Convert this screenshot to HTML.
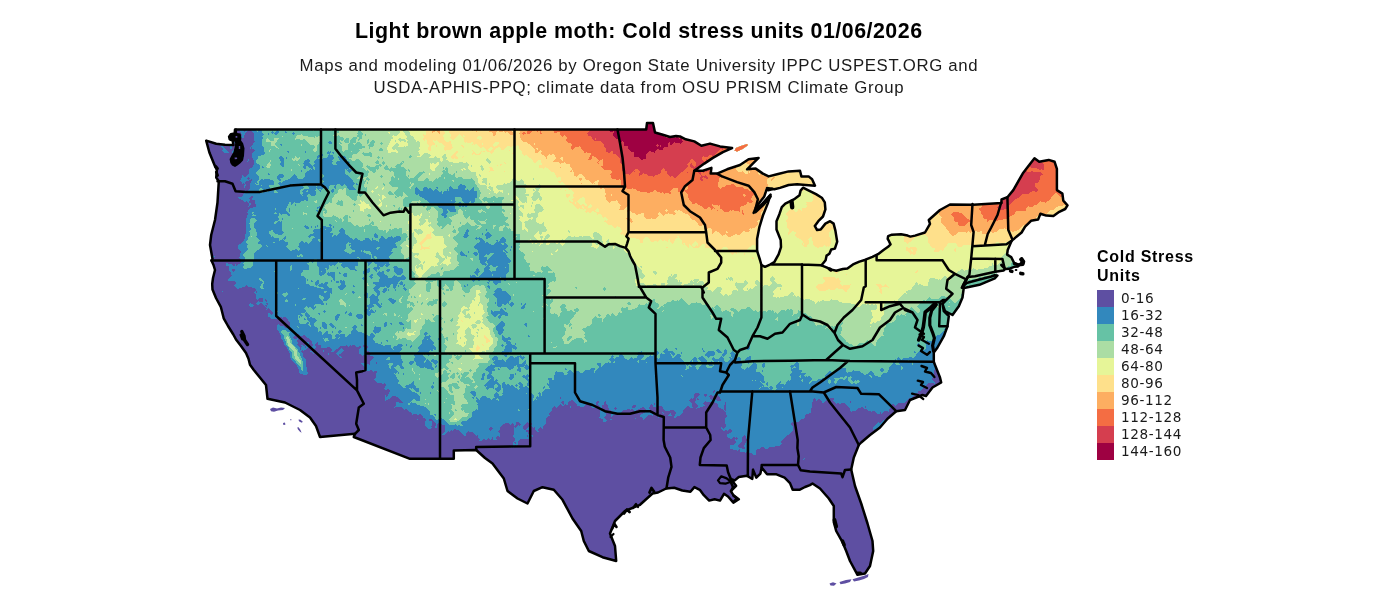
<!DOCTYPE html>
<html><head><meta charset="utf-8"><title>Light brown apple moth: Cold stress units</title>
<style>
html,body{margin:0;padding:0;background:#fff;}
body{width:1400px;height:594px;position:relative;overflow:hidden;font-family:"Liberation Sans",sans-serif;color:#000;}
#title{position:absolute;left:0;top:17.7px;width:1277.6px;text-align:center;font-size:21.4px;font-weight:bold;line-height:26px;letter-spacing:0.49px;white-space:nowrap;}
#sub{position:absolute;left:0;top:55px;width:1277.8px;text-align:center;font-size:16.8px;line-height:21.75px;letter-spacing:0.655px;color:#1a1a1a;white-space:nowrap;}
#map{position:absolute;left:0;top:0;}
#legend{position:absolute;left:1097px;top:247px;}
#legend .lt{font-weight:bold;font-size:16px;line-height:19.2px;letter-spacing:0.73px;white-space:nowrap;}
#legend .row{position:absolute;left:0;height:17.07px;width:120px;}
#legend .sw{position:absolute;left:0;top:0;width:17px;height:17px;}
#legend .lb{position:absolute;left:24px;top:-0.4px;font-family:"DejaVu Sans","Liberation Sans",sans-serif;font-size:13.6px;line-height:16.2px;letter-spacing:0.62px;white-space:nowrap;color:#1a1a1a;}
</style></head><body>
<div id="title">Light brown apple moth: Cold stress units 01/06/2026</div>
<div id="sub">Maps and modeling 01/06/2026 by Oregon State University IPPC USPEST.ORG and<br>USDA-APHIS-PPQ; climate data from OSU PRISM Climate Group</div>

<svg id="map" width="1400" height="594" viewBox="0 0 1400 594">
<defs><clipPath id="us"><path d="M235.0 129.5 L646.2 129.5 L647.0 123.0 L653.0 123.0 L655.0 132.5 L662.0 134.5 L670.0 137.0 L676.0 136.0 L680.0 136.4 L685.7 139.3 L694.3 141.4 L701.4 145.7 L710.0 143.6 L720.0 146.4 L732.1 148.1 L722.9 152.1 L712.9 157.9 L704.3 163.6 L694.3 170.7 L702.9 170.7 L711.4 167.9 L710.7 173.6 L717.1 173.6 L727.1 169.3 L740.0 165.0 L748.6 159.3 L758.6 157.9 L754.3 162.1 L747.1 169.3 L755.7 168.6 L762.9 173.6 L768.6 176.4 L777.1 174.3 L788.6 171.4 L800.0 170.7 L801.4 176.4 L808.6 176.4 L812.1 179.3 L815.0 185.7 L805.7 185.0 L797.1 184.3 L788.6 185.0 L780.0 187.9 L774.3 189.3 L767.1 187.9 L764.3 196.4 L760.0 202.1 L755.7 207.9 L753.6 212.9 L757.0 209.5 L762.5 203.5 L770.6 194.7 L767.7 203.6 L763.0 215.3 L759.4 227.1 L757.1 238.9 L757.1 250.9 L760.0 260.0 L761.4 265.0 L765.0 266.8 L770.0 264.6 L774.3 262.1 L778.6 254.3 L781.0 247.1 L780.7 240.0 L776.5 229.5 L776.5 221.2 L779.4 214.2 L781.8 207.1 L785.3 203.6 L788.9 201.8 L794.8 198.8 L799.5 195.3 L800.6 190.6 L803.0 187.7 L808.9 190.6 L816.0 194.1 L821.8 197.7 L824.8 202.4 L825.4 209.4 L823.0 216.5 L818.3 221.2 L814.8 225.9 L817.1 230.1 L820.7 229.5 L825.4 223.6 L830.1 221.2 L833.6 223.6 L835.4 230.6 L837.2 241.7 L834.9 248.6 L831.2 249.5 L829.4 253.7 L826.6 255.6 L825.6 260.2 L821.5 265.3 L827.0 267.6 L830.3 269.4 L836.3 270.8 L842.8 269.0 L847.4 268.5 L853.0 264.4 L859.4 261.6 L865.5 259.7 L872.4 256.9 L878.0 254.2 L883.5 250.0 L888.1 246.8 L890.5 244.4 L889.0 241.2 L887.7 238.9 L888.1 236.1 L891.9 234.7 L901.1 234.3 L907.6 235.6 L910.4 236.6 L915.0 235.6 L925.0 232.5 L930.0 223.8 L928.8 220.0 L940.0 210.0 L950.0 204.5 L973.2 204.7 L1001.5 203.0 L1001.5 199.5 L1007.4 197.2 L1013.3 190.1 L1022.7 173.6 L1029.8 164.2 L1034.5 158.3 L1039.2 161.8 L1048.7 159.9 L1054.6 161.8 L1056.9 168.9 L1056.9 190.1 L1062.4 193.6 L1063.3 200.7 L1067.5 205.4 L1065.2 209.0 L1059.3 211.8 L1053.4 216.0 L1046.3 215.6 L1040.4 213.7 L1038.1 219.6 L1031.0 220.8 L1025.1 226.7 L1021.6 232.5 L1014.5 238.4 L1012.4 240.0 L1011.2 241.8 L1007.7 250.0 L1007.1 254.7 L1011.2 257.1 L1014.2 263.0 L1018.3 264.6 L1023.0 264.0 L1023.6 261.8 L1021.5 258.6 L1020.3 259.3 L1022.0 262.0 L1021.0 263.2 L1018.0 266.5 L1014.2 266.8 L1009.0 268.8 L1005.4 268.9 L1003.5 270.5 L995.3 271.8 L985.0 274.0 L975.0 276.3 L967.7 277.1 L963.0 285.4 L963.8 287.5 L962.5 297.5 L958.8 306.2 L952.5 315.0 L945.0 311.2 L942.5 303.8 L943.8 311.2 L948.8 316.2 L947.5 326.2 L943.8 336.2 L937.5 347.5 L933.8 352.5 L933.8 361.8 L935.0 365.0 L940.0 377.5 L941.2 382.5 L932.5 387.5 L926.0 396.0 L922.5 395.0 L910.0 400.0 L905.0 410.0 L896.2 411.2 L887.5 418.8 L880.0 427.5 L870.0 435.0 L861.2 442.5 L858.8 445.0 L853.8 457.5 L851.2 469.5 L855.0 486.0 L861.2 503.5 L867.5 523.5 L872.5 541.0 L873.2 551.0 L870.0 566.0 L865.0 573.5 L857.5 574.8 L850.0 561.0 L846.2 551.0 L842.5 542.2 L836.2 531.0 L833.8 522.2 L833.8 506.0 L828.8 498.5 L820.0 488.5 L812.5 483.5 L809.9 485.1 L805.0 487.0 L799.4 489.8 L792.7 489.8 L790.0 483.1 L784.6 477.7 L776.5 474.3 L767.1 474.3 L761.7 467.5 L760.4 473.6 L756.3 477.7 L753.0 469.6 L752.3 479.0 L746.9 475.7 L738.8 477.0 L734.8 480.4 L730.8 479.0 L736.1 485.8 L730.8 491.1 L733.4 495.2 L738.8 499.2 L733.4 502.6 L728.0 496.5 L724.0 493.8 L720.0 500.6 L714.6 499.2 L709.2 500.6 L703.8 495.2 L699.8 489.8 L694.4 487.1 L690.4 491.8 L682.3 490.5 L674.2 487.8 L666.2 488.5 L658.0 492.5 L652.5 493.5 L640.0 504.8 L625.0 511.0 L615.0 521.0 L610.0 533.5 L615.0 546.0 L616.2 561.0 L602.5 557.2 L588.8 551.0 L583.8 541.0 L581.2 531.0 L572.5 518.5 L562.5 499.8 L553.8 489.8 L542.5 487.2 L533.8 491.0 L527.5 503.5 L517.5 498.5 L507.5 491.0 L503.8 478.5 L492.5 463.5 L485.0 458.0 L476.2 450.0 L453.8 450.5 L453.8 458.8 L410.0 458.8 L353.8 437.0 L355.0 433.8 L320.0 437.0 L316.0 426.0 L310.0 417.5 L300.0 410.0 L285.0 402.5 L267.5 398.8 L266.0 385.0 L253.8 370.0 L250.0 364.8 L248.5 358.8 L246.0 353.0 L241.0 346.0 L236.0 339.5 L233.3 334.5 L228.0 326.0 L223.7 318.3 L220.8 306.8 L216.0 298.0 L212.5 289.6 L212.2 284.0 L213.0 278.0 L215.0 270.0 L213.5 265.0 L211.5 260.4 L212.5 258.8 L210.0 245.0 L211.2 235.0 L215.0 220.0 L217.5 202.5 L218.8 181.2 L216.2 177.5 L216.9 170.0 L215.0 166.2 L209.4 152.5 L206.2 140.6 L216.2 143.8 L225.0 144.7 L233.5 145.0 L232.6 140.5 L229.7 139.3 L229.1 136.8 L230.9 134.2 L234.7 133.4Z M961.8 287.7 L966.5 283.0 L979.4 279.5 L991.2 276.5 L994.8 275.3 L997.5 275.5 L994.8 278.3 L979.4 284.8 L965.3 287.7Z M734.5 150.5 L736.0 148.0 L741.0 146.0 L747.3 144.0 L747.5 145.5 L742.5 149.0 L737.0 151.5ZM967.7 277.1 L985.0 274.0 L995.3 271.8 L997.5 275.5 L994.8 275.3 L979.4 279.5 L966.5 283.0ZM829.5 583.5 L833.0 582.3 L836.5 583.6 L834.0 585.8 L830.5 585.6ZM839.5 582.0 L846.0 580.0 L851.5 579.2 L850.0 582.0 L845.0 583.6 L840.5 584.2ZM852.5 579.2 L859.0 577.3 L864.0 575.8 L868.5 574.0 L868.0 577.0 L864.0 579.0 L859.0 580.6 L854.0 581.6ZM270.0 409.0 L273.0 407.6 L277.0 408.4 L281.0 407.4 L285.0 408.0 L283.0 410.0 L278.0 410.6 L274.0 411.8 L271.0 411.2ZM283.0 423.0 L285.0 422.6 L285.4 424.8 L283.4 425.0ZM298.3 419.8 L300.0 419.6 L302.7 421.5 L302.0 422.8 L299.5 421.8ZM297.2 427.4 L298.6 427.2 L300.5 430.0 L301.6 432.7 L300.0 431.8 L298.0 429.5ZM290.2 419.2 L291.4 419.2 L291.4 420.2 L290.2 420.2Z"/></clipPath></defs>
<g clip-path="url(#us)" shape-rendering="crispEdges">
<rect x="190" y="110" width="900" height="484" fill="#5E4FA2"/>
<path fill="#3288BD" fill-rule="evenodd" d="M1076 590 1074 590 1073 588 1072 590 1071 589 1065 589 1063 591 1062 591 1062 592 1070 592 1071 591 1072 592 1075 592ZM1055 584 1053 585 1055 585ZM1043 573 1044 576 1046 576 1048 579 1049 577 1051 577 1052 578 1054 575 1054 574 1052 574 1051 576 1049 575 1046 572 1047 570 1046 570 1046 571ZM1035 554 1033 556 1032 556 1032 557 1034 557 1035 556ZM1053 552 1052 554 1053 554 1054 556 1055 556 1056 554 1054 555 1053 554 1055 552ZM1059 551 1058 552 1059 552ZM1047 549 1047 550 1045 552 1048 554 1047 552 1048 551 1048 549ZM1039 541 1040 548 1042 548 1042 547 1044 546 1043 546 1041 544 1043 542 1040 542ZM1017 538 1017 539 1019 540 1019 539ZM1030 536 1029 536 1030 539 1027 542 1025 542 1023 544 1023 545 1027 549 1027 550 1029 550 1029 545 1031 544 1029 540 1030 539 1032 540 1035 540 1034 539 1032 539ZM1020 537 1024 540 1026 539 1026 538 1024 536 1021 536ZM1029 533 1032 532 1029 532ZM1010 525 1009 526 1010 526ZM1023 521 1023 522 1024 522 1024 521ZM1036 523 1034 520 1034 522 1032 524 1031 523 1028 523 1027 522 1022 527 1020 526 1018 526 1016 528 1015 526 1014 527 1014 529 1015 530 1014 531 1012 531 1015 534 1017 530 1020 528 1023 528 1025 529 1029 526 1030 527 1034 527 1035 526 1036 527ZM1019 519 1018 521 1019 521 1020 523 1021 523 1021 522 1019 521ZM1031 517 1032 518 1034 518 1034 517 1033 518ZM1012 510 1012 512 1014 513 1013 514 1014 516 1016 512 1015 512 1014 510ZM1070 505 1067 507 1067 511 1068 510 1070 510 1071 511 1070 512 1071 514 1072 513 1074 513 1075 511 1074 511 1073 509 1070 509 1069 508 1069 506ZM1034 491 1031 494 1029 495 1027 494 1026 495 1027 496 1029 496 1030 498 1032 494 1034 495ZM1001 492 1001 493 1004 495 1005 494 1007 494 1008 495 1008 496 1006 498 1004 498 1003 499 999 497 996 501 1001 501 1002 502 1000 504 1001 505 1001 508 1004 510 1003 513 1007 513 1010 511 1010 509 1009 508 1007 508 1004 504 1004 503 1005 502 1008 502 1009 503 1008 505 1011 506 1014 502 1015 503 1014 506 1016 505 1017 503 1021 506 1022 505 1024 505 1025 506 1025 508 1024 509 1025 511 1027 509 1029 508 1031 508 1032 509 1031 511 1035 513 1035 514 1038 517 1037 518 1038 519 1039 519 1039 515 1041 514 1042 515 1041 516 1041 521 1042 521 1044 519 1042 519 1041 518 1041 517 1043 515 1045 515 1049 517 1047 518 1046 520 1046 523 1045 524 1046 526 1049 526 1050 527 1048 529 1046 528 1046 529 1043 532 1041 531 1041 529 1039 530 1036 530 1037 531 1037 533 1040 537 1041 537 1041 535 1042 534 1044 535 1046 533 1047 534 1050 533 1051 534 1050 536 1051 535 1056 535 1059 533 1062 536 1062 538 1061 539 1058 539 1057 540 1058 541 1058 543 1056 545 1055 545 1053 543 1053 542 1053 544 1052 545 1054 546 1052 548 1050 548 1050 549 1052 550 1054 550 1056 548 1057 549 1060 549 1061 548 1063 550 1063 551 1065 552 1063 553 1063 561 1061 563 1059 563 1058 564 1055 564 1054 565 1054 567 1052 571 1054 571 1057 574 1056 576 1056 578 1057 579 1056 580 1058 582 1058 583 1060 583 1062 580 1067 580 1068 581 1067 582 1067 584 1065 586 1063 585 1064 586 1063 587 1064 586 1067 587 1069 585 1072 586 1072 584 1071 582 1072 581 1073 574 1074 573 1076 574 1076 569 1070 569 1069 568 1070 567 1070 565 1068 563 1072 561 1073 559 1071 558 1070 559 1070 561 1068 562 1066 559 1066 555 1067 554 1069 555 1069 554 1073 550 1073 545 1071 544 1070 542 1072 539 1076 539 1076 529 1075 528 1075 526 1076 525 1076 520 1073 520 1073 522 1071 523 1070 521 1067 521 1065 519 1065 516 1064 516 1062 518 1061 517 1059 519 1057 518 1056 520 1054 521 1052 519 1052 517 1053 516 1052 515 1051 516 1050 515 1051 513 1050 514 1048 513 1048 512 1050 511 1050 510 1049 510 1047 508 1046 509 1044 509 1043 508 1045 507 1043 505 1043 501 1037 501 1036 500 1034 500 1033 501 1032 500 1032 502 1031 503 1029 503 1027 499 1026 499 1024 497 1023 498 1019 495 1017 495 1019 497 1017 499 1012 496 1012 493 1011 493 1011 495 1010 496 1008 494 1008 493 1006 493 1004 491ZM1060 577 1061 578 1058 582 1057 580 1058 578ZM1067 565 1069 564 1070 566 1068 567ZM1066 549 1068 548 1069 550 1067 551ZM1061 547 1062 546 1063 547 1062 548ZM1066 541 1068 541 1069 542 1069 545 1071 546 1069 549 1065 546 1065 544 1064 543ZM1038 531 1039 530 1040 531 1039 532ZM1059 531 1061 529 1063 530 1063 532 1062 533 1060 533ZM1069 525 1073 527 1072 529 1072 533 1071 534 1069 533 1067 533 1066 532 1068 528 1068 526ZM1058 527 1058 525 1060 524 1061 526 1059 528ZM1061 523 1063 521 1065 522 1064 524 1062 524ZM1048 518 1049 517 1050 518 1049 519ZM1037 513 1038 512 1039 513 1038 514ZM1044 511 1045 510 1047 511 1046 512ZM1039 503 1040 502 1041 503 1040 504ZM1017 499 1018 498 1019 499 1018 500ZM1049 490 1051 490 1052 491 1053 489 1049 489ZM1038 489 1037 490 1037 492 1038 493 1040 493ZM1015 487 1013 485 1013 487 1012 488 1009 486 1010 488 1012 488 1013 489 1014 489ZM741 484 739 486 739 487 741 487ZM1041 480 1042 481 1042 480ZM974 476 974 477 976 479 976 481 981 485 983 485 984 486 986 486 988 484 990 485 990 486 988 488 987 488 987 489 988 489 989 491 990 490 991 491 991 493 990 494 988 494 988 495 990 496 991 495 994 495 993 494 994 493 996 493 997 494 998 493 996 491 996 489 994 488 994 486 992 482 992 478 990 477 987 481 984 482 983 481 985 479 985 478 983 478 982 477 977 477 975 475ZM980 482 982 480 984 482 984 483 983 484 981 484ZM1039 474 1038 475 1039 475 1040 477 1042 478 1042 476ZM1007 471 1004 471 1003 473 1003 475 1002 476 1003 477 1002 478 1002 482 1001 483 999 483 999 484 1004 485 1003 484 1004 483 1003 480 1007 478 1007 475 1006 475 1005 477 1004 476 1004 474 1005 473 1007 473ZM1001 484 1002 483 1003 484 1002 485ZM1039 470 1041 471 1041 470ZM1033 470 1033 471 1034 471 1034 470ZM1073 463 1073 464 1074 464 1074 463ZM1039 460 1039 463 1040 463 1041 461 1042 462 1041 460ZM1022 459 1025 463 1026 462 1024 461 1023 459ZM805 458 804 458 803 460ZM1011 453 1010 453 1008 455 1006 455 1006 457 1005 458 1003 458 1001 459 1001 461 1002 462 1003 461 1002 460 1003 459 1007 459 1008 460 1008 461 1006 462 1006 464 1005 465 1006 467 1005 468 1009 466 1008 461 1011 459 1009 458 1009 457 1011 455ZM1075 452 1074 452 1074 453 1071 456 1069 457 1066 457 1066 458 1064 459 1064 462 1062 465 1062 469 1064 470 1064 475 1063 476 1065 477 1065 479 1062 482 1059 482 1058 481 1056 482 1056 484 1058 484 1063 489 1062 491 1063 492 1063 494 1064 496 1063 497 1061 497 1061 498 1063 499 1062 501 1063 502 1063 504 1067 501 1069 502 1069 501 1071 499 1073 500 1074 502 1076 502 1076 490 1075 490 1073 492 1071 490 1071 489 1069 488 1068 489 1067 488 1068 486 1070 485 1071 486 1070 485 1072 483 1074 484 1074 487 1076 487 1076 484 1075 483 1076 481 1076 473 1075 472 1076 470 1076 464 1076 467 1075 468 1073 468 1072 467 1070 468 1069 466 1071 465 1071 464 1070 464 1068 462 1068 459 1071 456 1073 456 1074 457 1076 456 1075 454ZM1071 496 1072 494 1074 495 1072 497ZM1068 492 1070 491 1072 493 1071 494 1069 494ZM1064 490 1065 489 1066 490 1065 491ZM1062 487 1064 486 1065 488 1063 489ZM1000 452 998 454 998 456 1000 454 1002 455ZM962 452 961 451 960 453 962 453ZM1046 449 1046 451 1045 452 1045 454 1047 457 1046 459 1051 455 1051 454 1047 451 1048 450ZM986 449 986 450 984 452 983 452 986 452ZM1019 447 1019 449 1018 450 1015 450 1014 449 1014 450 1015 450 1017 452 1017 453 1014 457 1015 459 1015 464 1017 463 1019 466 1020 465 1023 467 1020 470 1019 470 1023 470 1024 471 1023 472 1023 474 1021 475 1019 477 1019 478 1026 480 1027 479 1026 478 1027 476 1029 477 1031 477 1031 473 1028 469 1029 468 1031 468 1033 467 1031 467 1030 466 1031 464 1034 461 1034 460 1036 459 1036 458 1039 455 1036 454 1033 457 1034 458 1033 460 1030 459 1031 462 1029 465 1029 467 1027 468 1017 463 1017 462 1019 461 1019 456 1021 453 1023 453 1024 451 1022 451 1020 452 1019 451 1021 449 1021 447ZM1026 475 1027 474 1028 475 1027 476ZM1028 474 1029 473 1030 474 1029 475ZM1029 473 1030 472 1031 473 1030 474ZM1024 470 1026 469 1027 471 1025 472ZM892 447 892 448 893 448 893 447ZM971 446 970 448 972 449 972 447ZM1052 445 1053 447 1052 450 1053 452 1055 452 1055 446 1054 445ZM995 445 995 446 997 447 996 449 999 448 999 447ZM884 445 883 446 884 447 885 446ZM1049 438 1047 439 1049 439ZM531 435 532 437 534 436ZM1053 435 1052 434 1051 436 1053 436ZM948 428 949 429 948 430 951 430 952 429 954 430 956 428 958 429 960 432 961 431 961 430 959 430 958 429 958 427 957 426 954 426 953 428ZM984 425 985 427 985 429 987 429 988 428 988 426 987 425ZM638 421 637 422 638 422ZM988 420 989 423 992 426 991 428 991 430 992 432 994 432 995 433 995 435 997 436 994 438 996 439 998 437 999 437 1001 435 999 436 998 434 1000 433 1000 432 1002 430 1003 430 1006 433 1006 435 1007 437 1006 438 1004 438 1002 437 1003 440 1002 441 1000 441 999 440 1000 439 998 441 1001 441 1002 443 1009 441 1007 439 1008 438 1010 438 1011 436 1011 434 1012 433 1014 433 1014 432 1013 431 1012 432 1010 431 1008 432 1006 432 1005 431 1006 430 1006 427 1004 423 1005 422 1002 422 1000 421 999 423 995 423 994 422 992 422 990 423ZM996 431 998 429 999 430 998 432ZM1000 424 1002 423 1003 424 1003 426 1001 427 1000 426ZM884 420 880 423 878 422 875 425 874 427 872 427 873 428 873 430 874 429 876 431 874 433 874 435 875 436 877 436 878 435 881 438 881 439 879 441 881 441 882 443 883 443 884 442 884 440 886 439 887 440 889 440 891 443 895 443 896 444 895 445 896 446 895 448 895 451 896 451 897 453 896 455 892 458 892 459 894 460 896 459 899 455 900 456 902 455 899 452 897 451 897 447 896 446 897 444 897 442 899 440 898 439 902 437 902 436 901 436 900 434 898 433 896 433 894 431 896 430 897 428 899 428 900 427 898 423 899 421 898 421 899 422 897 424 894 425 893 424 890 424 889 423 890 421 887 421 886 420ZM896 440 897 439 898 441 897 442ZM888 439 889 437 891 437 892 438 890 440ZM888 422 890 424 888 426 889 427 887 429 885 426 886 425 886 423ZM885 422 886 421 887 422 886 423ZM944 419 944 420 945 420 945 419ZM938 419 940 421 939 419ZM417 419 417 420 418 420ZM658 417 658 418 659 418 659 417ZM635 417 635 419 634 420 636 419ZM953 416 953 417 954 417 954 416ZM1004 415 1004 416 1005 416ZM990 415 992 416 992 415ZM672 416 671 415 671 413 670 413 667 416ZM662 412 662 413 664 414 664 413ZM570 406 570 408 571 408 571 406ZM973 402 971 403 971 406 972 407 974 406 974 403ZM921 402 921 404 923 406 923 407 924 406 924 404 922 402ZM980 400 978 401 980 401ZM980 397 980 398 981 398 983 400 987 402 986 399 988 396 990 396 986 394 983 397ZM1027 385 1026 387 1027 388 1029 387 1028 387ZM1009 383 1009 384 1010 384ZM997 364 998 364 999 366 1000 365 999 364ZM1009 362 1009 364 1014 366 1018 371 1020 370 1023 373 1022 374 1019 374 1017 376 1016 376 1016 377 1018 377 1019 379 1020 379 1020 378 1022 377 1022 376 1024 374 1025 374 1025 372 1024 371 1025 369 1023 367 1022 364 1021 364 1020 362 1018 362 1015 364 1013 364 1012 363 1013 362 1011 363ZM1021 369 1022 368 1024 369 1023 370ZM328 353 328 355 329 355 329 353ZM325 350 324 351 323 350 322 351 324 352ZM222 291 222 292 223 292 223 291ZM215 257 214 256 212 257 213 258ZM249 159 247 159 248 160 247 162 249 160ZM232 151 232 153 235 156 238 154 239 155 239 157 241 159 242 158 244 158 240 154 239 155 236 153 236 150 233 150ZM220 147 221 147 223 149 222 150 223 152 225 153 229 153 228 151 226 150 222 146ZM219 144 219 145 220 145ZM234 142 234 143 235 143 235 142ZM229 142 230 149 231 149 232 148 232 143ZM238 139 239 141 240 140ZM219 138 220 140 220 138ZM217 132 217 133 218 133ZM212 116 213 119 215 121 217 121 218 122 218 123 216 125 215 125 215 127 217 129 218 129 220 126 222 129 222 131 223 132 221 133 220 135 219 135 221 135 223 137 222 138 223 139 225 137 227 137 227 130 226 129 226 124 229 122 232 125 235 126 236 128 241 133 242 135 241 136 241 138 244 138 245 133 247 132 249 128 251 128 252 129 251 131 254 134 254 141 255 142 253 143 253 144 250 148 250 149 253 149 255 151 252 153 252 157 254 161 254 164 253 165 253 167 249 169 249 173 247 176 244 177 243 175 242 175 242 177 240 181 242 182 242 184 243 183 245 184 244 186 245 188 245 192 242 197 238 197 238 198 244 201 245 203 246 201 249 203 249 205 248 207 251 204 251 203 249 203 248 202 250 200 249 198 251 196 252 196 253 197 252 198 252 200 254 200 255 201 256 206 255 207 250 208 248 211 247 209 246 209 248 211 247 213 248 214 247 215 247 218 245 219 246 220 246 233 245 234 245 238 244 240 240 244 239 244 238 246 238 248 241 252 240 254 240 256 239 257 239 258 241 259 241 262 239 264 238 264 237 266 235 265 236 263 236 264 234 266 233 266 232 264 228 264 227 262 226 263 226 266 228 266 229 267 229 269 228 270 230 271 231 273 231 275 232 276 228 279 228 281 235 281 236 283 234 286 238 289 239 288 244 287 246 285 248 287 251 287 252 288 254 288 256 290 256 291 254 292 254 293 256 294 256 299 258 301 254 305 250 303 249 304 249 306 250 307 253 307 255 304 256 304 258 306 259 304 261 303 267 308 266 310 267 310 267 309 269 308 270 310 273 313 272 315 271 315 270 313 268 313 268 317 270 317 271 319 277 319 279 317 281 317 282 318 283 317 285 317 288 320 288 321 290 323 290 327 289 328 288 327 287 328 285 328 283 326 280 326 279 324 276 325 277 326 277 330 279 332 281 336 281 339 283 341 284 343 284 345 287 348 290 354 290 357 291 359 297 366 299 370 299 373 300 374 302 374 303 375 306 375 308 373 307 372 307 368 306 367 306 362 305 361 306 360 303 357 303 354 301 352 301 351 302 350 303 351 305 350 308 347 311 347 312 348 311 349 311 351 308 353 309 352 311 352 313 354 314 354 311 351 311 349 312 348 314 349 316 348 316 347 314 345 317 342 318 343 318 345 320 345 321 346 321 348 326 348 327 347 329 347 332 350 331 352 334 352 334 351 336 349 339 348 340 349 336 353 337 355 336 356 337 355 341 358 342 358 342 357 338 355 340 354 344 350 345 350 343 350 342 348 340 349 339 348 340 346 345 346 346 345 347 345 348 347 349 347 350 345 351 346 352 345 354 345 356 347 358 347 360 346 361 347 359 350 359 354 360 354 362 356 364 355 366 356 368 354 365 352 366 351 368 351 371 354 370 356 372 356 374 358 371 360 370 362 370 364 369 365 368 364 366 365 365 363 361 363 361 364 363 365 364 367 366 367 367 368 365 370 364 370 364 371 369 371 370 370 371 370 373 372 374 371 376 371 377 372 376 373 376 377 374 379 374 380 378 383 380 383 381 382 383 385 383 384 385 383 386 385 384 389 386 390 388 389 390 391 387 397 386 397 385 396 386 395 385 395 385 401 391 398 392 396 395 396 397 397 403 402 402 403 399 403 398 402 396 402 396 405 394 407 394 408 396 407 402 407 404 410 406 409 409 412 410 412 412 414 412 415 413 414 416 414 417 415 420 414 423 416 423 418 424 418 426 420 425 421 425 426 429 429 432 428 431 426 432 425 432 422 433 421 436 424 436 426 434 427 435 428 437 428 437 426 436 425 439 423 440 423 442 425 444 425 445 426 445 432 443 433 442 435 445 435 445 434 448 431 452 433 451 433 450 431 451 430 453 431 453 430 455 429 456 430 458 430 461 433 462 433 463 435 465 436 466 435 466 433 468 431 469 432 473 432 476 436 477 435 478 436 478 438 480 439 479 441 482 441 483 439 484 439 486 441 486 440 488 438 489 438 490 440 492 439 493 440 497 440 496 437 497 436 500 437 500 434 498 431 500 429 500 427 502 425 506 423 508 423 510 425 512 423 514 425 514 432 513 433 514 434 512 436 515 439 515 441 513 442 513 445 512 446 510 446 511 447 511 450 511 448 512 447 514 448 514 446 515 445 516 446 518 445 518 441 521 439 529 439 530 438 528 436 529 435 528 434 528 432 526 432 525 431 526 430 529 430 531 426 533 428 534 427 535 428 535 430 537 432 539 432 538 430 540 427 541 427 542 429 543 428 543 427 546 423 546 419 548 416 550 416 548 414 552 411 552 409 554 406 556 408 558 407 560 404 561 404 562 406 563 406 565 404 567 406 568 404 568 402 569 401 571 401 572 399 577 405 577 406 579 406 580 407 583 407 584 408 584 406 586 404 588 404 589 403 591 405 592 408 594 408 596 407 596 402 598 401 599 402 598 405 600 406 600 409 599 410 600 411 600 416 599 418 602 419 603 420 603 422 605 422 607 421 607 420 604 418 604 417 606 415 606 413 605 413 604 411 602 410 602 407 601 406 602 405 604 405 604 402 605 401 606 402 606 404 608 405 609 410 610 410 612 412 611 414 611 418 610 420 612 420 611 418 612 416 616 414 620 414 623 410 626 410 627 409 629 409 630 410 632 408 633 410 635 411 643 407 644 407 646 410 646 411 644 413 640 415 640 417 641 417 643 419 643 420 648 415 651 415 652 416 653 415 652 413 650 413 649 412 650 410 648 408 650 407 650 405 651 404 653 405 653 407 655 407 656 408 659 406 661 406 663 408 663 409 666 411 673 410 676 413 674 417 674 418 675 418 678 416 680 416 680 415 682 414 683 412 683 410 685 409 687 406 689 406 690 408 693 408 692 406 692 404 691 402 689 401 689 400 691 398 692 399 694 398 694 396 693 395 696 393 699 393 700 395 697 397 696 400 694 402 698 405 698 407 696 408 696 409 697 408 699 408 700 407 705 406 705 405 703 404 705 401 706 402 711 402 712 401 716 403 718 405 718 407 719 408 722 409 726 412 726 415 727 416 725 419 725 424 726 425 726 427 723 429 721 427 721 426 721 428 722 430 724 431 726 430 728 431 729 429 731 429 732 431 730 433 729 433 728 435 727 433 726 434 727 435 727 437 731 439 733 437 734 437 735 438 735 441 736 442 735 444 733 445 730 445 730 449 732 449 733 450 736 450 737 451 738 451 739 449 740 450 740 452 744 452 745 453 746 452 748 452 749 453 752 453 753 455 756 455 756 450 757 449 759 449 762 447 763 447 765 449 767 449 770 447 779 446 781 444 782 444 781 443 781 441 784 438 785 438 785 437 787 435 788 435 793 431 793 427 791 425 791 423 792 422 794 423 797 422 798 423 798 422 800 421 801 419 803 419 805 417 805 415 806 414 811 413 811 408 812 407 812 404 811 403 813 401 813 399 814 398 816 399 815 400 816 401 815 402 819 399 822 402 822 403 825 402 826 400 827 400 828 402 829 402 828 400 830 398 833 398 834 399 833 400 836 404 838 403 840 404 841 403 844 403 850 408 850 411 851 412 853 411 855 411 858 408 863 407 865 410 866 408 868 411 870 411 871 412 872 411 874 411 877 414 882 414 884 411 887 411 888 412 889 411 889 409 891 407 893 407 891 406 892 404 893 404 895 406 899 403 904 403 910 398 913 397 916 393 918 393 917 392 918 391 920 391 922 389 923 389 928 383 933 383 936 385 935 387 937 388 937 392 936 393 934 393 933 395 932 395 931 393 929 392 927 393 929 397 930 397 932 395 934 396 934 397 931 400 931 401 935 401 935 397 937 394 939 394 940 395 940 396 938 398 939 398 940 396 943 396 945 398 944 400 944 402 941 405 940 407 936 405 936 408 938 409 938 411 939 412 939 414 938 416 939 417 941 415 944 414 944 413 947 410 947 408 948 407 949 408 949 410 950 412 952 409 954 409 955 410 955 414 956 414 956 413 958 411 960 413 959 414 959 416 961 418 963 418 964 419 964 421 963 422 963 426 966 426 967 427 967 429 963 431 966 433 966 436 967 437 967 441 969 441 971 440 973 444 974 444 975 442 977 443 976 445 979 447 978 449 976 451 975 451 975 452 978 455 976 457 977 457 978 455 979 456 981 455 983 456 983 457 979 459 979 460 977 462 975 460 973 460 972 459 973 458 973 454 972 455 970 453 970 452 969 452 970 454 970 457 969 458 967 458 965 455 963 455 963 456 961 458 963 460 963 461 965 460 967 460 968 461 966 462 966 464 967 464 967 463 969 461 974 466 974 467 975 466 975 464 977 462 979 463 981 463 983 462 984 464 986 463 989 463 990 464 992 464 994 466 993 467 991 467 990 468 991 469 992 468 994 468 995 466 995 461 992 457 992 455 994 451 993 450 991 451 989 451 989 456 988 457 986 457 983 454 982 455 980 451 981 450 980 449 982 448 980 446 981 445 981 442 982 441 983 443 985 442 987 443 987 441 989 439 991 441 991 439 989 437 987 437 986 438 984 438 980 436 978 436 976 437 974 435 974 433 972 431 974 428 974 426 972 425 969 422 969 421 973 418 970 418 967 416 967 413 966 412 963 412 962 410 958 410 955 406 955 405 957 403 959 403 960 405 963 404 963 403 961 403 960 402 961 401 959 402 956 400 957 398 959 399 957 398 957 396 959 394 960 394 957 392 955 394 952 391 952 390 954 388 955 389 954 388 955 385 953 383 953 382 954 381 957 382 957 380 956 378 952 378 951 379 950 377 945 373 945 371 948 367 948 366 951 363 951 362 954 359 955 359 955 358 958 355 967 355 968 356 979 356 981 357 983 359 980 362 981 364 983 364 984 365 987 365 988 363 993 363 994 364 994 365 991 368 990 368 990 370 987 372 986 372 983 369 981 371 984 373 982 375 979 375 977 373 978 372 977 371 978 370 977 369 977 372 976 373 972 373 970 374 969 372 968 373 966 372 966 371 968 369 970 369 971 367 973 368 975 367 975 364 974 363 973 364 970 364 968 366 966 366 962 369 960 369 956 371 956 372 957 372 959 374 959 376 958 377 961 377 962 376 963 377 965 376 966 378 968 379 967 381 969 383 971 383 972 381 976 383 972 385 970 387 973 391 971 387 973 385 974 385 976 387 976 388 977 388 975 385 976 384 978 384 979 386 982 389 982 390 983 389 982 388 982 386 980 385 981 384 980 385 976 382 976 381 979 378 981 380 981 381 982 381 985 384 985 385 987 384 989 385 989 389 992 389 993 388 994 389 996 387 1000 385 999 383 1001 381 1003 381 1003 379 1004 378 1002 380 1000 380 999 379 1000 377 1000 378 998 379 997 378 997 376 998 375 1001 375 1002 376 1003 375 1006 375 1007 376 1010 373 1009 373 1009 374 1007 375 1005 374 1002 371 1001 371 1000 372 1001 373 1000 375 995 370 995 366 994 364 992 362 991 363 988 360 992 358 994 360 995 360 996 359 998 359 999 358 1002 358 1003 357 1007 360 1009 359 1012 359 1013 360 1016 357 1019 359 1021 359 1022 360 1027 361 1029 363 1030 363 1032 365 1032 368 1031 369 1031 371 1032 372 1034 371 1032 367 1034 365 1037 366 1039 368 1038 370 1039 371 1041 370 1043 372 1041 376 1041 378 1040 379 1040 383 1041 384 1038 387 1037 387 1034 384 1034 382 1032 382 1032 384 1033 384 1036 388 1038 387 1040 388 1043 387 1042 386 1043 384 1045 386 1045 391 1043 394 1046 393 1049 396 1049 397 1048 398 1046 398 1042 400 1040 399 1041 400 1038 404 1036 403 1034 406 1032 406 1031 405 1031 402 1033 400 1035 401 1035 399 1032 395 1034 394 1034 393 1033 393 1030 397 1028 397 1027 399 1026 399 1023 396 1025 394 1027 394 1028 393 1024 391 1023 391 1023 393 1022 394 1017 396 1016 394 1019 391 1017 389 1019 387 1021 387 1022 386 1020 387 1018 385 1014 387 1015 389 1014 390 1012 390 1011 391 1012 392 1014 390 1016 392 1015 393 1015 397 1017 397 1019 400 1019 401 1016 404 1014 403 1015 405 1013 407 1012 407 1010 405 1010 404 1013 400 1014 401 1015 401 1015 400 1013 400 1012 399 1012 397 1010 397 1009 395 1007 394 1004 394 1001 391 1001 390 998 391 999 393 999 397 1000 398 1000 399 998 400 1000 401 999 403 997 403 996 402 994 403 992 401 990 401 989 400 989 401 991 403 991 407 992 408 996 406 997 407 997 409 999 410 1001 410 1001 409 999 408 1003 406 1005 403 1008 403 1009 405 1011 406 1010 407 1013 409 1013 411 1012 412 1010 410 1008 409 1006 410 1005 408 1004 408 1004 409 1005 409 1008 413 1011 413 1014 409 1016 409 1017 410 1017 413 1018 414 1018 418 1016 419 1017 420 1019 420 1020 419 1022 423 1018 425 1015 428 1016 429 1018 427 1020 431 1018 432 1018 433 1016 435 1015 435 1015 437 1016 437 1018 435 1019 437 1021 437 1022 438 1023 437 1025 439 1026 441 1025 442 1026 443 1026 446 1028 448 1029 448 1030 450 1032 451 1032 452 1029 455 1033 453 1033 451 1035 449 1034 447 1035 446 1037 446 1037 440 1038 439 1038 437 1039 436 1042 436 1043 437 1043 440 1045 441 1044 443 1045 443 1046 441 1044 440 1047 436 1047 434 1048 432 1050 430 1051 430 1052 428 1053 430 1053 428 1054 427 1056 429 1056 431 1058 431 1059 432 1059 431 1057 430 1058 429 1058 427 1061 423 1062 423 1063 425 1064 425 1068 430 1067 432 1063 436 1063 437 1061 438 1061 439 1065 439 1066 441 1062 444 1060 443 1061 445 1060 446 1058 445 1060 449 1064 449 1067 452 1066 453 1067 454 1069 454 1067 452 1069 451 1070 448 1073 445 1074 446 1076 444 1076 440 1075 441 1073 441 1072 440 1072 438 1076 436 1076 424 1075 425 1073 425 1073 428 1071 429 1068 426 1069 425 1068 422 1070 420 1072 422 1074 422 1074 421 1073 420 1073 418 1071 418 1069 415 1067 415 1066 414 1066 412 1069 409 1076 409 1076 405 1073 402 1074 400 1076 402 1076 396 1075 394 1073 394 1072 393 1073 392 1076 392 1076 116 230 116 226 119 224 118 224 116ZM980 462 981 461 982 462 981 463ZM990 458 991 457 993 458 992 459ZM971 457 972 456 973 457 972 458ZM989 455 990 454 991 456 990 457ZM991 454 992 453 993 454 992 455ZM746 448 747 447 748 448 747 449ZM1062 445 1063 444 1064 446 1063 447ZM514 442 515 441 516 443 515 444ZM984 439 985 440 985 442 984 443 983 442 983 440ZM979 440 980 439 982 441 980 442ZM984 439 985 438 986 439 985 440ZM975 437 976 439 974 442 973 441 973 439ZM735 438 736 437 738 439 736 440ZM491 438 492 437 493 438 492 439ZM744 435 746 437 747 440 744 446 745 448 744 449 742 449 741 448 739 448 738 446 739 444 742 442 742 438ZM526 436 527 435 528 436 527 437ZM1022 432 1022 430 1023 429 1025 429 1027 431 1025 433 1023 433ZM1056 429 1057 428 1058 429 1057 430ZM1041 428 1042 429 1040 431 1040 434 1039 435 1038 435 1034 432 1035 430 1037 430ZM1019 428 1020 427 1022 428 1021 429ZM488 429 491 427 493 428 493 429 490 431ZM1050 427 1051 426 1052 428 1051 429ZM1028 427 1029 426 1030 427 1029 428ZM1018 427 1019 426 1020 427 1019 428ZM1025 426 1027 424 1029 426 1028 427 1026 427ZM1042 426 1042 424 1044 423 1045 425 1043 427ZM530 424 531 423 532 424 531 425ZM1062 423 1063 422 1064 423 1063 424ZM966 424 967 422 969 422 970 423 968 426ZM528 422 530 425 526 430 524 430 523 429 523 426 527 422ZM514 427 516 424 515 423 516 422 518 422 521 424 520 426 518 425 516 428ZM1050 421 1051 422 1051 424 1049 426 1047 424 1047 423 1049 421ZM1040 423 1040 421 1041 420 1044 422 1042 424ZM431 421 432 420 433 421 432 422ZM428 420 429 419 431 419 432 420 431 421 429 421ZM1065 420 1066 418 1068 419 1066 421ZM1020 415 1021 414 1024 414 1025 413 1031 413 1032 414 1029 417 1032 417 1034 416 1038 419 1038 421 1036 423 1035 423 1034 422 1034 420 1033 421 1032 419 1029 419 1028 420 1030 422 1028 424 1025 421 1025 420 1025 421 1027 423 1025 425 1024 425 1022 423 1023 421 1022 420 1022 418 1024 417 1021 417ZM1052 414 1054 412 1056 412 1060 414 1059 415 1056 415 1058 415 1059 416 1059 417 1057 419 1055 417 1054 417 1052 415ZM879 413 880 412 881 413 880 414ZM1035 411 1038 414 1038 416 1037 417 1033 415 1033 413ZM1035 410 1037 409 1038 411 1036 412ZM1040 408 1041 408 1042 410 1045 410 1046 411 1046 415 1044 417 1041 417 1040 416 1040 414 1039 413 1039 409ZM614 408 616 407 617 409 615 410ZM1038 407 1039 406 1041 407 1040 408ZM864 407 865 406 866 407 865 408ZM1023 406 1024 405 1025 407 1024 408ZM944 406 945 405 946 406 945 407ZM631 407 633 405 635 405 636 406 635 408 632 408ZM1047 404 1048 404 1050 406 1049 407 1049 410 1048 411 1047 411 1045 408 1045 406ZM1020 405 1022 404 1023 405 1023 407 1021 408 1020 407ZM725 404 726 405 726 410 725 411 724 410 724 407 723 406ZM1051 405 1053 403 1055 404 1055 406 1054 407 1052 407ZM653 404 654 403 655 404 654 405ZM724 403 725 402 726 403 725 404ZM1020 402 1022 401 1024 403 1023 404 1021 404ZM849 402 850 401 851 402 850 403ZM561 402 563 401 564 402 564 404 563 405ZM1057 401 1058 400 1060 400 1061 402 1060 403ZM1023 401 1025 399 1026 400 1025 402ZM1060 400 1064 398 1066 399 1065 401 1061 401ZM1046 399 1047 398 1048 400 1047 401ZM954 398 956 400 956 402 955 404 951 407 949 405 950 404 950 400 952 398ZM696 399 697 398 699 399 698 400ZM559 398 560 397 561 398 560 399ZM1053 395 1054 394 1055 395 1054 396ZM709 396 710 395 713 396 716 394 719 396 721 400 720 401 717 401 716 399 713 399 711 400ZM703 395 704 394 706 394 707 395 705 397ZM942 394 943 393 945 394 944 395ZM1056 396 1056 393 1057 392 1058 392 1060 394 1060 395 1061 395 1060 394 1061 392 1062 393 1067 393 1068 394 1064 397 1057 397ZM1001 393 1002 392 1003 393 1002 394ZM938 391 940 390 942 394 940 395 938 393ZM712 392 714 390 715 391 714 393ZM1050 390 1051 389 1052 390 1051 391ZM1046 391 1048 389 1049 390 1048 392ZM1055 389 1056 388 1057 389 1056 390ZM946 389 947 388 949 389 948 390ZM1059 388 1060 387 1061 389 1060 390ZM1050 387 1051 386 1053 387 1052 388ZM1050 385 1051 386 1050 388 1048 389 1047 387 1049 385ZM1063 384 1067 386 1068 388 1072 390 1072 395 1070 397 1067 391 1066 390 1065 391 1063 390 1063 387 1062 386ZM1046 384 1047 383 1048 384 1047 385ZM946 381 947 380 949 381 948 382ZM983 380 984 379 985 381 984 382ZM985 376 986 375 987 376 986 377ZM1054 378 1051 380 1049 380 1045 384 1043 384 1042 385 1041 384 1042 382 1041 381 1043 380 1044 377 1048 374 1049 375 1051 375ZM966 368 968 366 969 367 968 369ZM938 365 940 368 940 373 942 377 942 380 945 383 947 384 946 386 946 390 944 393 943 391 941 391 940 390 941 388 939 388 935 384 935 383 932 379 933 377 933 374 934 373 934 371ZM365 366 366 365 367 366 366 367ZM375 363 376 362 377 363 376 364ZM299 349 300 348 301 349 300 350ZM304 347 305 346 306 347 305 348ZM362 346 363 345 366 345 368 347 368 348 366 349 365 347 363 347ZM293 337 295 335 297 337 297 338 296 339 294 339ZM297 335 298 334 300 336 302 336 304 335 312 341 312 344 313 345 311 347 309 345 309 342 306 342 305 345 304 346 301 345 302 347 300 348 297 345 298 343 296 341 298 339 297 337ZM265 305 266 304 267 306 266 307ZM266 303 267 302 268 304 267 305ZM265 301 266 300 267 301 266 302ZM264 300 265 299 266 300 265 301ZM258 299 259 298 262 298 263 299 263 301 262 302 259 302 258 301ZM255 292 256 291 257 292 256 293ZM231 270 232 269 234 269 235 270 233 272ZM250 180 251 181 251 183 249 184 250 185 250 188 247 191 246 191 244 187 246 185 245 182 246 181 248 181ZM250 180 251 179 252 180 251 181ZM247 178 248 177 250 179 248 180ZM250 148 251 147 252 148 251 149ZM238 117 240 117 241 116 242 117 244 116 245 117 245 119 246 119 248 121 247 122 247 125 248 126 247 127 248 128 245 132 244 132 241 129 238 129 236 126 236 124 235 123 236 122 236 120 235 119Z"/>
<path fill="#66C2A5" fill-rule="evenodd" d="M525 416 526 417 526 416ZM528 409 529 411 531 411 530 411ZM518 409 518 411 519 411 520 410ZM495 400 497 400 499 401 499 400 497 398 497 399ZM779 390 778 391 779 391ZM783 387 782 387 782 388ZM755 380 755 381 756 381ZM752 380 752 381 753 381 753 380ZM803 379 802 379 801 381 802 382 803 381ZM834 378 835 380 834 382 835 384 836 384 838 380 840 379 842 379 844 380 847 377 848 378 848 381 852 384 853 383 856 384 860 382 858 380 856 381 855 380 854 382 852 381 850 379 851 378 853 378 852 378 851 376 849 377 847 377 846 376 843 378 842 377 840 377 839 378ZM801 375 799 376 800 378 801 377ZM792 375 793 376 793 375ZM681 375 681 376 683 377 683 376ZM393 363 390 363 388 364 389 366 389 368 390 369 391 369 391 366 393 364ZM645 362 647 363 647 362ZM512 362 513 363 513 362ZM913 361 912 361 912 365 913 364ZM718 361 717 363 720 365 721 364ZM614 361 613 362 614 364 615 362ZM639 360 637 361 638 363 639 363ZM667 357 666 358 667 359ZM396 357 395 358 393 358 396 358ZM390 357 388 357 386 359 386 360 389 360 390 359ZM379 353 379 354 380 354ZM988 347 989 348 989 351 990 352 989 353 991 354 993 352 995 354 997 353 999 354 1000 353 997 350 995 349 995 347 993 347 992 346 989 346ZM428 339 427 339 427 340ZM323 338 325 342 327 341 329 341 328 340 328 338 325 338 324 339ZM340 337 339 337 338 339 339 339ZM282 330 281 331 281 333 282 333 284 336 284 338 286 342 286 345 289 348 289 349 292 353 292 357 293 359 296 362 296 363 300 366 301 368 301 370 303 371 303 362 302 361 302 359 301 357 299 355 300 354 298 352 298 350 292 343 292 341 289 335 289 333 290 332 288 332 285 330ZM951 329 952 330 955 328 956 329 955 331 957 330 959 327 957 328 954 327 953 329ZM297 326 298 328 299 328 299 327ZM296 312 297 313 297 312ZM277 311 277 312 278 312 278 311ZM296 303 295 304 295 307 296 305ZM286 299 285 302 288 302 288 301ZM306 298 304 298 302 299 302 300 304 300 306 299ZM289 294 288 294 286 292 285 293 283 293 282 295 283 295 284 297 287 296 288 294ZM323 292 324 293 326 293 327 291 324 291ZM280 291 277 292 276 294 278 294 278 292ZM299 288 298 288 298 289ZM259 278 259 280 263 282 263 283 261 284 261 285 259 287 262 289 264 289 263 287 263 284 264 283 264 281 260 278ZM322 271 321 271 321 272ZM277 270 276 269 274 272ZM506 267 505 267 505 268ZM498 266 493 267 491 265 490 265 489 267 490 268 489 270 491 272 491 273 489 275 490 276 490 274 491 273 492 274 492 276 493 275 491 273 491 272 492 271 495 271 496 270 496 268ZM291 265 289 267 290 268 290 271 292 270 292 266ZM269 260 268 261 269 261ZM303 257 303 255 300 254 299 256 297 255 296 256 297 257 299 257 300 256 301 257ZM380 247 377 247 376 249 378 250 378 249ZM266 245 266 246 268 247 268 246ZM348 242 346 245 346 248 344 250 344 251 350 254 353 252 354 252 356 254 355 251 354 250 352 250 350 247 351 246 350 244 351 243 349 243ZM348 245 349 244 350 245 349 246ZM273 243 276 242 273 242ZM318 239 319 242 320 242 321 241 319 239ZM325 229 325 230 327 230ZM255 218 251 218 250 219 250 222 249 223 250 225 250 228 251 229 249 232 250 233 250 235 248 237 248 239 247 241 245 242 248 244 247 245 247 247 248 249 245 252 245 253 243 254 243 256 245 258 245 261 243 264 244 265 243 267 244 269 246 269 247 268 250 268 252 266 253 266 253 261 254 260 254 257 253 256 254 255 254 253 257 250 259 250 262 246 260 244 258 244 257 243 260 241 259 239 258 239 256 237 257 235 257 233 256 232 256 230 254 228 254 223 256 221 257 221 255 219ZM274 213 274 214 277 214 276 212ZM251 213 253 214 252 216 255 216 257 215 254 215 253 214 254 212 252 212ZM276 207 276 208 274 209 275 210 276 210ZM450 200 451 201 453 201ZM260 188 259 189 259 192 261 192 263 193 263 190 261 188ZM306 185 303 185 302 186 304 188 300 190 300 194 303 196 302 194 303 193 302 191 305 189 307 189 308 190 306 191 306 192 307 192 308 191 308 189 310 188ZM291 184 292 186 294 185 294 184ZM322 174 321 175 321 178 320 179 321 182 320 183 318 183 320 184 322 183 324 185 324 182 322 180 322 178 324 176 324 175ZM322 183 323 182 324 183 323 184ZM254 122 254 127 256 129 256 131 257 132 258 132 258 130 260 127 262 128 262 133 264 134 262 137 263 138 261 140 262 141 262 146 264 148 264 152 265 153 263 155 258 156 258 158 256 160 256 163 260 165 260 168 256 173 257 175 259 176 259 179 255 183 256 185 258 185 259 184 262 186 262 185 260 185 259 184 259 181 262 179 263 180 265 179 269 179 270 180 272 180 274 182 274 184 273 185 269 185 269 187 270 188 269 190 267 191 265 189 265 190 267 192 268 191 270 191 270 190 272 188 274 190 274 193 276 193 277 194 278 192 277 192 275 190 276 189 278 189 279 190 279 188 280 187 280 185 278 184 279 182 282 183 283 181 290 179 291 177 294 174 297 176 298 179 302 179 305 177 305 174 307 171 308 171 310 169 311 170 312 169 315 170 315 168 313 166 313 165 315 164 314 163 314 161 316 159 319 159 321 160 323 158 326 158 328 157 328 155 329 154 331 155 332 154 334 158 332 160 333 162 331 163 333 165 337 165 336 162 337 161 340 161 339 160 339 158 341 156 344 156 346 158 347 160 346 162 347 162 352 167 346 170 344 168 345 169 345 173 346 175 348 175 353 181 353 182 355 183 355 184 353 185 354 188 356 189 355 191 354 190 349 190 345 184 342 186 341 186 339 184 337 184 336 185 330 185 329 186 329 188 327 190 324 188 321 190 320 189 318 190 316 188 317 186 316 186 316 189 315 190 316 192 316 194 314 196 311 196 309 194 308 194 307 195 307 197 308 198 308 200 307 201 304 200 303 201 301 201 299 203 296 203 294 202 292 204 290 201 286 209 286 211 287 211 290 215 289 216 288 216 286 214 283 214 281 215 280 213 279 213 279 215 278 216 279 219 277 221 275 221 275 222 273 223 275 224 279 221 280 222 281 221 282 222 282 229 281 230 282 230 284 233 281 235 278 235 277 234 275 234 272 229 270 231 269 231 269 233 271 236 271 238 272 236 274 238 278 238 279 239 279 241 283 239 285 242 287 242 288 243 288 244 286 246 287 248 291 252 291 253 291 251 292 250 294 250 295 249 297 249 298 251 300 250 300 248 299 248 298 246 299 245 299 243 301 241 303 241 304 243 306 242 308 244 309 244 309 243 312 240 312 239 313 238 314 239 315 237 313 236 311 236 309 238 308 236 310 234 312 234 314 233 313 231 314 229 319 229 322 226 325 226 326 227 330 227 332 229 332 230 330 232 330 233 332 233 333 234 332 237 334 235 337 236 337 235 340 233 339 232 340 229 342 228 345 231 345 234 349 236 350 238 351 238 353 240 353 241 355 238 357 238 358 240 359 239 360 241 365 240 364 239 365 238 368 238 371 241 373 240 375 240 379 242 379 239 381 238 381 236 382 235 383 237 386 239 388 237 390 237 391 236 393 238 397 236 399 236 401 238 401 239 399 241 395 243 397 247 396 248 393 248 392 250 390 252 389 252 392 252 393 253 389 256 389 258 390 259 389 264 390 265 387 267 385 266 386 264 382 267 380 267 379 266 380 268 378 270 377 269 377 271 376 272 373 268 374 267 377 267 377 264 375 264 373 262 373 261 375 260 377 258 377 257 374 256 374 258 373 259 372 258 372 255 371 253 369 251 365 251 364 250 363 251 361 250 361 252 363 251 364 253 370 255 371 256 371 258 370 260 372 259 373 260 373 262 371 263 369 266 368 266 367 265 368 264 367 262 365 263 362 260 361 260 358 257 357 257 356 258 358 258 359 259 358 261 358 265 357 266 355 266 355 269 354 270 350 270 347 267 345 267 344 268 340 265 342 263 339 263 338 262 335 266 333 265 331 266 328 265 329 266 329 269 327 270 326 269 327 268 325 268 326 270 326 272 323 275 320 276 319 275 319 270 318 269 319 268 317 266 317 259 314 259 314 261 312 263 310 261 309 263 307 263 307 264 309 265 309 269 308 270 303 270 303 272 301 273 301 276 304 276 306 279 306 284 308 284 310 286 312 286 313 285 314 287 316 287 317 288 320 288 321 289 324 289 324 288 322 287 319 287 318 285 322 283 324 285 324 283 325 282 327 282 328 283 327 284 327 286 329 288 331 288 332 289 332 293 331 294 330 293 330 297 328 300 327 300 326 298 324 298 322 296 321 296 320 294 319 295 319 298 323 301 324 304 323 305 321 305 320 304 316 304 313 306 315 308 314 310 313 310 311 308 311 307 309 307 308 308 307 306 306 306 304 308 304 309 305 309 306 311 304 313 301 313 301 314 302 314 303 316 301 317 299 315 298 315 298 318 297 319 299 321 299 323 300 324 306 324 306 323 308 322 309 323 308 325 310 326 310 328 311 326 310 325 310 323 307 320 307 318 305 316 305 313 306 312 310 316 309 318 311 316 312 318 314 318 317 321 314 323 314 326 318 328 318 332 316 334 317 334 317 333 319 331 320 331 322 333 322 335 323 336 323 334 327 331 328 332 328 334 330 334 332 336 332 339 334 339 336 338 335 337 335 335 336 334 338 334 339 335 341 334 344 334 345 335 345 337 347 337 347 336 349 334 351 334 351 332 353 329 352 327 354 325 355 325 357 327 356 328 356 330 358 332 361 332 369 336 370 336 370 334 371 333 373 333 375 336 375 337 373 338 373 340 375 341 375 343 377 343 378 344 380 344 384 346 386 345 390 345 391 346 391 348 390 350 391 348 393 350 394 349 392 348 394 346 396 346 399 344 402 344 403 346 401 347 402 349 399 352 399 354 401 355 401 358 403 362 402 364 402 366 404 368 403 369 401 369 400 368 400 366 397 365 395 367 394 367 395 369 398 371 398 372 395 374 394 373 399 381 398 384 399 384 402 387 404 388 406 388 405 387 406 385 408 385 409 384 410 385 413 381 414 382 414 385 416 387 416 388 418 388 419 389 419 391 418 392 416 392 412 388 411 389 410 388 408 388 411 390 410 391 417 393 420 397 420 400 419 401 416 401 414 399 414 398 411 401 410 403 408 403 407 404 408 405 410 405 410 403 411 402 412 403 415 403 417 405 419 405 420 406 423 406 425 407 430 412 430 415 432 415 435 417 436 420 437 420 440 417 442 419 444 419 445 421 449 425 454 425 455 424 457 426 459 425 461 426 463 426 463 425 460 423 462 421 467 421 469 418 472 417 472 412 473 411 475 411 476 409 478 410 478 406 477 405 478 403 476 402 476 400 477 399 480 400 480 398 483 396 486 396 487 398 489 398 491 400 493 398 495 398 494 396 494 394 496 392 499 395 499 396 501 396 503 395 502 393 503 392 503 389 502 388 502 383 504 381 506 385 508 384 510 386 512 385 514 386 515 388 516 388 518 390 520 389 522 386 524 388 525 386 528 387 530 390 527 393 526 393 526 394 527 394 528 392 531 392 534 396 533 401 535 399 537 400 536 397 537 396 539 397 539 395 538 394 539 392 541 394 541 396 542 395 542 392 545 389 551 389 550 389 548 387 549 386 549 381 547 379 548 378 551 378 552 379 551 380 553 380 554 379 554 377 553 376 555 374 555 372 556 371 558 372 562 372 564 374 563 375 566 375 568 374 567 372 569 370 571 370 572 372 574 373 577 371 579 371 580 373 582 373 586 370 589 370 592 368 594 368 595 369 594 370 594 372 595 374 595 372 599 367 596 364 597 363 600 363 601 364 601 367 603 369 603 365 605 363 607 363 608 362 610 363 611 362 609 360 609 359 611 358 610 357 612 355 614 356 613 358 615 359 616 357 619 357 619 355 621 354 624 357 625 359 628 360 630 359 631 357 632 357 633 359 635 358 637 358 637 356 638 355 636 354 638 352 640 352 641 351 642 352 642 354 644 355 644 356 641 359 641 360 645 360 647 357 648 357 650 355 651 356 653 356 653 354 657 351 658 351 659 353 658 355 656 356 656 358 659 359 660 357 660 354 661 353 662 354 665 354 663 352 663 351 666 348 668 350 668 351 673 351 675 354 674 356 672 355 671 353 670 353 673 359 672 360 673 360 674 357 678 354 679 354 681 356 680 358 684 361 684 363 686 366 686 368 684 370 689 369 690 367 692 367 689 364 689 363 691 360 692 361 692 363 693 361 692 359 694 357 695 357 697 359 697 361 699 362 699 363 695 366 697 370 699 369 699 367 702 365 701 364 701 361 700 361 698 359 698 358 702 356 707 361 706 363 707 364 706 367 708 368 711 368 713 366 714 366 714 364 713 363 714 361 713 361 711 359 713 357 715 359 718 359 721 356 724 359 724 361 725 362 728 362 728 361 732 358 730 353 733 351 734 353 737 356 736 358 737 358 739 356 741 359 741 362 742 363 742 365 741 366 742 369 745 370 747 367 749 368 749 367 752 364 753 364 752 363 753 362 757 364 757 369 755 370 756 371 755 372 759 372 761 373 764 377 764 379 763 380 765 382 764 383 762 383 760 381 758 381 759 381 762 384 764 385 762 387 760 387 760 388 758 389 759 389 763 386 764 387 768 387 769 389 774 390 775 392 775 390 777 389 776 386 780 381 781 382 780 384 783 384 784 385 786 384 786 382 788 380 790 381 791 379 791 377 789 375 792 372 791 371 792 369 794 368 797 368 793 365 795 364 796 362 797 362 799 364 799 370 801 370 802 371 801 373 805 373 806 374 804 375 805 377 806 376 807 377 809 376 812 379 809 382 809 384 810 384 810 383 813 381 817 381 818 379 821 379 822 378 824 378 825 379 827 377 829 379 828 381 828 383 829 384 831 382 831 380 830 380 827 377 828 376 826 377 825 375 830 371 831 372 834 372 835 370 837 370 839 368 845 368 846 369 846 371 847 373 848 372 851 372 853 370 854 371 859 371 865 375 867 374 871 378 872 378 872 376 870 375 868 375 867 374 869 373 871 370 872 372 874 373 874 375 875 376 877 376 878 377 881 377 881 375 883 373 887 373 889 369 889 367 893 364 893 362 894 361 896 362 895 364 897 365 900 365 901 366 901 368 900 369 902 370 903 368 900 365 899 362 897 360 897 358 898 357 900 358 901 360 902 360 903 358 907 358 908 359 908 361 909 361 908 360 908 358 909 357 911 357 913 358 916 356 916 354 919 351 922 351 926 349 926 345 925 343 927 340 929 341 931 341 932 340 935 340 936 339 936 336 937 335 939 335 943 331 945 331 944 329 946 327 949 327 949 325 951 322 953 321 955 321 956 320 958 322 959 321 961 321 963 319 965 321 966 321 969 318 970 319 975 319 973 319 971 317 971 316 973 315 976 312 979 312 981 313 981 312 983 310 985 312 985 314 982 317 979 324 977 326 976 326 976 328 974 330 974 333 975 334 974 337 973 338 970 338 970 339 968 341 968 344 967 346 965 347 962 350 962 351 964 351 968 353 969 352 969 348 971 346 973 346 975 345 976 343 975 341 976 340 979 340 983 344 983 345 981 346 981 347 982 347 982 346 984 344 986 343 987 344 988 343 988 341 990 340 994 344 996 344 997 343 999 344 1000 346 1003 346 1004 345 1009 348 1013 348 1015 352 1017 354 1019 354 1023 357 1025 357 1028 359 1030 359 1032 361 1034 361 1037 363 1039 363 1046 369 1049 370 1052 373 1056 375 1057 377 1060 378 1065 382 1068 383 1075 389 1076 389 1076 116 336 116 332 119 331 118 329 118 328 116 266 116 263 120 261 121 258 121 257 120 257 118ZM434 414 435 413 436 415 435 416ZM475 398 476 397 478 398 477 399ZM472 397 473 396 474 398 473 399ZM429 393 430 392 431 393 430 394ZM419 393 420 392 421 393 420 394ZM470 392 471 391 474 391 476 393 476 396 474 397 470 393ZM769 387 770 386 772 386 773 388 772 389 770 389ZM542 388 544 386 545 387 544 389ZM431 386 432 385 434 387 434 388 432 389 431 388ZM515 385 516 384 518 386 516 387ZM546 384 548 383 549 385 548 386ZM767 382 768 383 768 385 767 386 766 385 766 383ZM518 387 520 385 519 385 518 383 520 382 523 385 520 388ZM432 383 433 382 434 383 433 384ZM824 377 825 376 826 377 825 378ZM527 374 529 376 528 378 531 382 531 383 528 387 527 386 527 383 528 382 525 379 525 378 523 378 522 377 523 375 526 376ZM510 374 513 374 514 375 514 377 512 380 510 380 508 378 510 376 509 375ZM514 374 515 373 516 374 515 375ZM484 373 485 374 484 379 483 380 481 380 480 379 482 377 482 374ZM402 374 403 373 404 374 403 375ZM397 373 398 372 399 373 398 374ZM761 371 762 370 763 371 762 372ZM879 370 882 368 884 369 884 370 882 372 881 372ZM790 369 791 368 792 369 791 370ZM564 369 565 368 567 369 566 370ZM497 369 498 368 500 369 499 370ZM688 367 689 366 690 367 689 368ZM601 367 602 366 603 367 602 368ZM434 367 435 366 436 367 435 368ZM790 367 791 365 793 365 794 366 792 368ZM435 366 436 365 437 366 436 367ZM524 368 526 364 527 364 530 368 527 370ZM764 363 765 364 765 366 763 368 762 367 762 364ZM686 365 687 363 689 364 687 366ZM706 363 707 362 709 362 713 365 712 366 710 366ZM710 362 711 361 712 362 711 363ZM408 363 411 361 413 361 414 362 411 365ZM525 360 526 361 526 363 525 365 523 367 520 367 521 369 521 371 520 372 517 371 516 370 518 369 518 368 516 366 519 364 521 364 523 363ZM894 360 895 359 896 360 895 361ZM430 361 432 359 433 359 434 360 436 360 438 362 435 365 432 362ZM750 356 751 357 751 359 749 361 749 363 748 364 745 361 745 360 747 357ZM729 357 730 356 731 358 730 359ZM518 356 519 357 519 359 518 360 519 361 519 363 517 365 514 366 514 367 512 369 511 369 510 371 509 369 508 369 506 367 507 366 506 367 501 367 500 368 499 367 495 367 494 368 495 370 494 371 492 371 492 373 491 375 494 378 494 381 495 381 496 379 498 380 497 382 500 384 501 386 501 389 498 392 497 392 494 389 495 388 497 388 498 386 496 384 495 384 494 385 494 388 493 389 492 388 489 388 489 389 487 390 486 389 487 386 485 387 484 385 486 384 487 382 490 379 491 379 491 378 489 379 487 379 486 378 487 377 487 375 489 374 489 373 487 371 486 371 485 369 489 366 490 366 491 364 493 365 495 365 495 364 493 363 495 360 493 361 492 360 492 358 494 356 496 356 498 358 498 360 501 360 502 359 505 362 506 362 506 360 510 356 512 356 514 358ZM519 356 521 355 522 357 524 356 525 358 522 360 519 357ZM645 354 646 353 647 354 646 355ZM680 353 681 352 682 353 681 354ZM913 352 914 351 916 352 915 353ZM704 355 708 351 713 351 715 353 715 354 713 356 710 356 709 358 708 358 707 356 705 356ZM501 354 501 352 502 351 504 351 505 352 505 353 503 355ZM702 351 703 350 705 351 704 352ZM725 349 727 351 727 353 725 355 725 356 723 357 722 356 722 354 724 352 724 350ZM716 350 718 349 722 352 721 353 719 353 717 352ZM701 349 702 348 703 349 702 350ZM675 348 676 347 677 349 676 350ZM745 348 747 346 749 346 750 347 750 348 748 350 747 350ZM409 347 411 345 412 346 411 348ZM916 345 917 344 918 345 917 346ZM501 345 503 344 504 346 502 347ZM405 345 406 344 407 345 406 346ZM917 344 918 343 920 344 919 345ZM514 344 515 343 516 344 515 345ZM380 343 381 342 382 343 381 344ZM386 340 387 339 388 341 387 342ZM437 339 438 338 439 339 438 340ZM973 338 974 337 975 338 974 339ZM527 336 528 335 530 336 529 337ZM502 335 503 335 504 337 506 338 509 337 511 339 510 340 508 340 508 341 510 341 512 345 515 345 517 348 516 350 512 348 512 351 510 353 509 352 506 358 504 356 505 354 505 351 503 350 505 348 504 347 506 345 507 345 506 342 504 342 502 340 502 337 501 336ZM429 335 431 336 430 338 434 343 433 344 434 346 436 347 436 349 435 350 432 349 433 350 432 351 430 350 429 352 430 354 428 356 426 354 424 355 423 354 423 351 422 351 423 352 422 353 423 354 423 356 426 358 426 359 424 361 424 363 426 362 426 360 427 359 430 361 429 362 430 362 432 364 432 366 434 369 433 370 431 370 430 369 428 369 424 367 423 368 420 368 418 366 418 365 417 366 416 365 416 363 414 361 414 358 415 357 413 355 415 353 417 353 419 350 417 348 422 343 422 340 424 339 423 338 425 336 428 336ZM423 334 425 332 426 332 428 334 425 336ZM331 332 332 331 333 332 332 333ZM338 333 338 331 339 330 340 330 342 332 339 334ZM402 328 403 327 404 328 403 329ZM334 328 335 327 336 328 335 329ZM319 328 320 327 321 328 320 329ZM374 327 375 326 377 327 380 327 381 328 381 330 379 333 377 333 375 334 373 331 374 329 375 330 374 329ZM360 325 361 324 363 325 362 326ZM524 324 526 323 527 324 527 326 526 327ZM329 324 331 323 335 327 333 328 331 327 329 325ZM398 323 399 322 401 322 404 324 403 325 400 325ZM390 323 391 322 392 324 391 325ZM386 322 387 323 387 325 385 327 384 327 383 326 384 325 384 323ZM321 323 322 322 324 322 327 324 327 328 326 329 324 329 322 327 322 324ZM503 321 505 324 505 325 503 327 503 329 504 330 503 332 500 335 499 335 498 334 498 332 496 330 496 326 498 325 498 324 501 321ZM303 319 304 318 306 319 305 320ZM298 317 299 316 300 317 299 318ZM498 316 500 315 501 316 501 318 499 319 498 318ZM355 316 357 314 361 314 363 316 363 317 361 319 358 319 357 317ZM339 314 340 315 337 321 334 319 335 318 335 316 337 314ZM348 314 350 312 352 314 352 315 351 316 349 316ZM344 313 345 312 346 313 345 314ZM318 313 319 312 320 314 319 315ZM345 312 346 311 347 312 346 313ZM490 311 491 310 492 311 491 312ZM374 311 375 310 376 311 375 312ZM323 312 324 310 326 311 324 313ZM508 315 507 316 505 316 504 315 502 315 501 316 499 314 495 317 494 317 491 314 491 312 492 311 493 312 495 311 500 311 500 309 502 308 503 310 504 310 505 312 506 312 508 314ZM364 310 365 309 367 309 369 308 370 309 369 311 370 311 371 309 375 312 374 313 371 313 371 314 369 316 368 316 364 312ZM982 309 984 307 987 307 988 308 988 311 987 312 985 312ZM504 308 505 307 506 309 505 310ZM314 307 315 306 316 307 315 308ZM525 303 526 304 525 307 523 309 521 309 520 308ZM520 304 521 303 522 304 521 305ZM380 304 381 303 382 304 381 305ZM325 304 326 303 327 304 326 305ZM509 304 511 302 512 302 514 304 514 305 511 307 509 305ZM507 303 508 302 509 303 508 304ZM494 303 495 302 496 303 495 304ZM388 299 389 298 391 298 397 301 393 304 392 304 388 300ZM322 300 324 298 325 298 327 300 326 301 323 301ZM371 295 373 294 375 296 377 296 378 297 378 299 379 300 378 303 382 306 380 308 379 308 378 306 375 304 373 304 374 306 373 308 372 307 371 308 368 308 366 306 370 304 370 299 369 297ZM366 292 368 294 368 297 367 298 366 298 364 296 364 294ZM351 292 352 291 354 291 355 293 353 294ZM394 290 395 289 396 290 395 291ZM387 290 388 289 389 290 388 291ZM497 288 500 288 502 290 502 291 505 291 509 295 511 296 511 299 505 305 502 304 502 305 500 307 498 307 497 306 497 303 496 302 497 301 497 299 496 297 493 295 493 294 495 293 494 291ZM382 292 384 288 386 288 387 289 387 290 384 293ZM403 288 404 287 407 290 405 291 403 289ZM487 286 488 285 490 287 490 288 489 289 487 287ZM463 286 464 285 466 286 465 287ZM397 286 398 285 399 286 398 287ZM352 286 353 285 355 286 354 287ZM466 285 467 284 468 285 467 286ZM402 286 404 284 405 285 404 287ZM487 282 488 281 489 283 488 284ZM399 284 401 281 403 282 403 284 402 285 400 285ZM335 282 336 281 338 281 339 282 338 283 336 283ZM330 281 331 280 332 281 331 282ZM318 280 319 281 319 283 318 285 316 286 315 285 315 282 317 280ZM310 281 311 280 313 281 312 282ZM341 279 342 281 343 280 345 282 345 285 346 286 346 287 344 288 343 290 340 290 337 287 338 286 340 286 341 284 340 283 340 280ZM306 280 307 279 308 280 307 281ZM362 278 363 277 365 279 363 280ZM470 277 472 275 474 275 476 277 478 277 479 276 482 279 479 281 475 279 475 281 473 282 472 280 470 279ZM469 276 470 275 471 276 470 277ZM372 274 373 275 372 277 373 278 371 279 369 277 369 276ZM343 274 344 273 346 273 347 274 347 276 346 277 344 277 343 276ZM338 273 339 272 341 273 340 274ZM326 274 328 272 329 273 331 272 334 272 335 273 335 280 334 281 332 279 333 278 332 278 330 276 328 276ZM372 283 373 282 379 282 379 279 380 278 377 274 377 273 379 271 381 272 383 271 384 272 384 274 386 275 388 277 388 278 392 278 392 277 394 275 398 277 400 277 402 275 404 275 406 278 405 280 400 280 398 282 397 282 398 283 395 289 393 288 393 284 391 284 389 288 387 288 386 286 384 287 380 287 380 288 378 289 380 292 379 293 380 294 378 297 377 296 377 294 375 292 373 288 375 287 376 285ZM386 271 387 269 389 269 390 270 388 272ZM354 270 355 269 357 270 356 271ZM478 268 480 272 478 273 478 275 477 276 474 273 474 272 476 270 476 269ZM369 268 370 269 370 271 368 273 367 273 367 275 365 276 363 274 363 271 365 269 367 269ZM336 268 337 267 338 268 337 269ZM393 267 394 266 396 266 398 268 401 268 403 270 403 272 400 275 398 275 394 272 394 269ZM373 259 374 258 375 259 374 260ZM465 256 466 255 467 256 466 257ZM473 253 474 252 476 252 478 254 476 256 474 255ZM505 252 506 251 508 252 507 253ZM467 252 468 251 469 252 468 253ZM460 252 461 251 464 254 466 255 465 256 461 256 460 255ZM509 250 510 249 511 250 510 251ZM504 250 505 249 506 251 505 252ZM510 247 511 246 512 247 511 248ZM496 240 497 239 498 241 497 242ZM371 239 372 238 373 239 372 240ZM479 237 483 239 483 240 485 242 485 244 485 243 487 242 492 245 493 245 496 242 499 242 502 237 503 237 506 240 506 241 504 243 501 243 501 244 502 245 504 245 504 243 505 242 506 244 508 245 508 246 504 250 503 250 503 252 504 252 506 254 508 258 510 259 511 261 509 263 508 263 509 265 509 269 508 270 509 271 507 273 506 273 507 274 505 275 506 276 505 277 506 278 506 280 505 281 504 281 502 279 502 278 500 277 501 279 501 282 500 283 498 283 496 285 493 283 493 281 491 281 489 282 488 280 487 280 485 277 484 278 481 278 479 276 483 272 484 272 484 268 488 265 487 260 490 257 491 257 493 254 494 254 493 253 490 253 488 255 486 254 484 256 484 257 486 257 487 258 487 261 485 262 485 263 487 264 486 266 484 265 482 265 480 263 480 261 479 260 479 254 478 253 478 250 474 248 474 246 476 244 480 242 480 241 478 239ZM475 239 476 237 478 238 476 240ZM285 236 286 237 286 239 284 240 283 239ZM481 234 482 233 483 234 482 235ZM374 234 375 233 378 235 378 237 377 238 375 238 374 237ZM488 232 492 235 490 238 488 238 487 240 485 238 486 237 485 234 487 232ZM485 230 486 229 487 230 486 231ZM467 229 469 231 468 233 469 236 466 238 464 238 463 237ZM332 227 333 226 334 227 333 228ZM314 227 315 226 316 227 315 228ZM310 227 311 226 312 227 311 228ZM316 226 317 225 318 226 317 227ZM304 226 305 225 306 226 308 226 309 228 308 229 306 229 304 227ZM328 225 330 224 332 226 330 227ZM281 219 282 218 283 219 282 220ZM317 213 319 211 320 212 319 214ZM288 211 289 210 290 211 289 212ZM316 210 317 209 318 211 317 212ZM288 209 289 208 290 209 289 210ZM316 208 317 207 318 208 317 209ZM318 207 320 206 321 208 319 209ZM294 205 295 204 296 205 295 206ZM290 204 291 203 292 204 291 205ZM440 192 441 191 442 192 441 193ZM446 190 447 189 448 190 447 191ZM331 190 333 189 334 190 334 192 332 193 331 192ZM319 190 320 189 321 191 320 192ZM436 187 437 186 438 188 437 189ZM335 185 336 186 336 188 335 189 334 188 334 186ZM477 197 476 198 474 198 475 199 475 201 473 203 471 203 470 202 471 201 470 201 468 205 466 207 464 206 463 208 462 206 459 207 457 205 457 204 459 202 460 202 462 204 463 203 465 204 465 203 462 201 462 198 460 197 455 197 455 201 456 202 454 203 453 205 455 206 456 211 455 212 450 212 447 209 446 210 448 212 446 214 447 216 445 219 444 218 444 216 442 216 441 215 443 212 443 210 441 208 439 208 438 206 435 204 430 204 427 200 425 200 423 198 420 197 419 196 419 194 416 195 415 194 415 190 414 189 417 187 420 191 423 191 423 188 424 187 426 187 428 189 430 188 432 189 433 191 435 189 438 190 439 192 440 192 442 194 442 195 444 191 449 191 449 187 450 186 454 189 457 189 458 188 458 186 461 184 462 185 464 185 466 187 466 188 464 189 465 190 468 189 469 191 470 191 473 187 474 188 474 191 476 191 477 192ZM355 184 356 183 358 184 357 185ZM255 183 256 182 258 183 257 184ZM282 174 284 176 282 178 280 178 281 180 280 182 277 179 277 177 279 174ZM267 174 268 173 270 174 269 175ZM300 171 301 170 302 171 301 172ZM347 170 348 169 350 169 352 171 349 173ZM261 167 262 166 264 167 263 168ZM347 162 348 161 350 162 349 163ZM305 160 308 159 310 161 309 163 313 166 313 168 312 169 309 168 308 167 309 166 308 167 307 166 305 167 306 168 305 169 303 168 303 166 304 165 303 164ZM316 158 317 157 318 158 317 159ZM285 158 286 157 287 158 286 159ZM337 157 338 156 340 157 339 158ZM280 156 281 156 284 159 284 166 283 167 282 167 279 164 281 162 279 158ZM321 155 322 154 323 155 322 156ZM319 154 320 156 318 158 317 156ZM332 152 333 151 334 153 333 154ZM326 153 328 151 329 152 330 151 331 152 330 154 327 154ZM304 152 305 151 306 152 305 153ZM287 151 288 150 289 152 288 153ZM280 144 281 143 282 145 281 146ZM328 142 330 141 332 143 331 144 329 144ZM267 134 268 133 269 134 268 135ZM292 133 294 132 295 134 293 135ZM284 132 285 131 287 132 286 133ZM271 133 272 131 274 132 272 134ZM278 130 279 132 276 135 275 135 274 133 277 130ZM330 123 331 124 331 126 330 127 329 126 329 124ZM324 126 327 123 329 124 329 125 327 127 325 127ZM268 123 269 122 270 124 269 125ZM261 123 262 122 266 122 267 124 265 126 262 125Z"/>
<path fill="#ABDDA4" fill-rule="evenodd" d="M449 412 448 413 450 414 450 412ZM425 403 425 404 427 404 430 407 428 405 429 404 428 403 427 404ZM444 402 445 404 445 402ZM425 399 425 400 426 400ZM447 396 445 398 446 399 447 399 446 398ZM437 390 437 391 439 393 440 393 440 390 439 391ZM478 386 476 385 476 386 474 387 474 388 476 389 476 388 478 387ZM419 378 419 380 420 380 420 378ZM420 373 419 375 420 375ZM413 367 412 368 412 371 414 372 414 374 415 373 413 370ZM434 355 434 356 436 356 436 355ZM559 348 558 349 559 349ZM557 347 556 346 555 347 553 347 553 348 555 348ZM839 342 840 344 840 342ZM552 342 551 342 551 343ZM287 336 286 339 287 340 288 345 294 352 294 354 293 355 295 357 295 359 300 364 301 364 301 361 299 359 299 357 297 356 297 351 295 349 295 348 290 343 290 340 289 339 289 337ZM391 334 393 336 393 338 394 337ZM989 332 988 335 990 337 992 337 996 339 998 339 999 338 1002 341 1004 341 1004 339 1002 338 1003 337 1002 335 1001 335 999 337 995 337 993 334ZM345 327 345 328 347 328 347 327ZM374 322 372 323 374 323ZM797 321 797 326 798 326 799 325 799 323ZM987 319 985 320 985 322 984 324 981 327 981 329 980 330 981 332 983 331 984 333 985 333 985 332 984 332 983 330 984 329 986 329 988 328 988 326 986 323 987 322ZM798 317 799 319 801 319 800 319 799 317ZM786 317 787 318 787 317ZM778 317 777 317 777 318 774 320 776 320 777 321 778 320ZM544 317 543 319 545 320 544 319ZM401 317 401 318 402 318 402 317ZM400 315 399 315 398 317ZM711 314 710 316 711 317 711 319 713 317 711 315ZM394 313 394 316 395 316 396 315ZM383 314 383 315 384 314 386 316 387 316 387 314 386 313 384 313ZM947 311 946 311 946 312ZM533 311 533 312 534 312ZM664 310 663 310 661 314 661 313ZM943 308 943 309 944 309 944 308ZM931 307 930 308 931 308ZM948 306 948 307 950 307 950 306ZM938 305 937 306 938 308 940 308 938 306ZM349 305 349 306 350 306 350 305ZM546 303 543 303 543 305 542 306 543 308 543 310 543 309 546 305 548 306 548 305 547 305ZM951 304 950 302 948 303 950 303ZM936 302 934 303 936 303ZM340 299 339 301 340 303 340 305 343 305 345 307 346 307 346 304 342 300 342 299ZM403 296 402 296 399 300 399 302 400 303 402 303 401 300ZM358 298 361 298 360 296 359 296ZM545 294 542 295 542 296 544 294ZM513 294 513 296 514 296 514 294ZM347 292 345 295 347 294ZM514 285 513 286 514 286ZM507 283 509 285 510 284ZM516 282 517 284 517 282ZM367 282 367 286 369 286ZM545 278 543 277 542 279 544 279ZM460 270 461 271 461 270ZM470 258 470 259 472 261 473 261 473 258ZM517 236 515 236 513 238 513 239 514 239ZM251 236 251 237 252 237ZM362 229 364 231 364 232 365 232 365 230 364 229 363 230ZM292 228 292 229 293 229 293 228ZM495 225 493 225 493 227 492 228 494 229 494 227 496 226ZM335 220 335 221 337 222 337 221ZM478 217 478 220 480 223 482 224 485 224 486 223 485 221 487 220 487 218 484 221 479 221 478 220ZM494 216 493 217 494 217ZM303 212 303 215 305 214 306 215 307 214 307 213 305 213ZM465 210 465 211 467 211ZM478 210 478 212 480 213 482 211 486 213 485 210 484 211 483 211 481 209 480 210ZM307 206 307 207 308 207ZM493 202 495 201 493 201ZM317 200 314 201 315 203 317 203ZM410 182 411 185 408 188 411 189 411 188 414 184 413 183 411 184 410 183 411 182ZM452 180 453 182 454 182 454 180ZM398 178 398 182 398 180 399 179ZM444 177 444 179 445 179 445 177ZM361 177 359 176 357 178 357 179 360 179ZM291 169 291 171 292 170ZM298 164 299 166 300 165ZM270 159 270 161 268 164 266 164 267 165 266 167 267 168 270 168 270 166 271 165 269 163 271 161ZM292 158 292 160 294 161 296 160 297 162 297 161 300 159 300 157 297 158 295 156 295 157 293 159ZM352 151 351 151 351 152ZM295 150 296 151 296 150ZM270 149 269 150 269 152 271 154 272 154 270 153 270 150 271 149ZM302 144 301 144 301 146 300 147 302 146ZM267 138 266 140 266 142 270 142 271 143 271 146 275 146 276 148 279 149 279 148 278 148 275 144 279 138 274 138 274 140 273 141 271 141ZM282 136 282 137 283 137 283 136ZM296 136 296 137 294 139 295 140 296 139 299 139 300 140 305 139 306 141 310 145 313 145 315 147 315 148 312 150 315 152 317 150 317 145 319 143 319 142 321 141 321 139 322 138 319 136 316 137 315 135 315 137 314 138 313 137 308 137 307 136 303 136 301 134 300 135 298 135ZM331 130 331 131 332 131 332 130ZM270 129 272 128 270 128ZM334 123 335 125 335 123ZM322 211 323 212 323 215 324 217 331 217 333 215 337 217 339 219 340 218 342 220 342 222 343 222 344 220 343 219 343 217 345 215 347 215 348 216 348 222 350 222 353 225 355 226 357 225 359 227 361 227 362 226 364 227 365 225 368 225 369 224 373 226 376 226 378 228 378 229 380 230 382 230 383 231 385 230 386 231 386 233 389 231 389 229 390 228 391 230 395 228 396 228 398 230 399 228 401 228 402 229 402 234 403 233 405 233 407 235 408 237 406 238 406 240 405 241 403 241 404 242 400 245 402 248 401 250 401 253 404 256 404 259 402 261 401 261 403 262 403 261 405 260 406 258 409 257 411 260 411 263 410 264 410 268 412 269 412 270 415 274 414 275 415 277 415 280 414 282 415 282 416 284 410 289 409 289 409 292 410 294 408 296 408 298 407 299 407 301 409 301 410 302 408 304 407 304 407 309 408 307 409 308 411 307 413 308 413 309 408 315 408 319 406 320 407 322 408 322 410 320 411 321 411 328 410 329 408 329 406 328 404 332 402 332 401 331 398 331 395 333 395 335 397 336 397 338 395 340 398 340 399 338 401 339 402 338 405 338 407 340 411 340 413 343 413 341 418 336 420 335 420 331 422 328 422 326 424 325 425 323 425 321 424 320 425 319 427 320 429 319 431 322 437 322 435 322 433 319 433 318 436 315 439 315 443 318 443 319 439 322 440 323 439 324 441 326 441 327 443 328 443 330 440 332 438 331 442 333 445 339 445 342 444 343 447 347 446 348 445 353 447 355 449 355 449 354 451 353 452 354 452 357 450 359 449 359 450 362 446 364 447 367 449 368 447 370 446 370 444 368 439 370 439 371 437 373 435 373 435 376 436 376 437 378 438 378 438 377 440 375 442 375 443 373 442 372 445 370 447 372 446 373 449 373 450 374 447 376 449 378 445 382 442 382 440 384 441 385 440 387 443 387 448 392 448 393 450 395 453 395 454 396 454 399 453 400 455 402 455 404 454 405 451 404 452 406 452 408 451 409 452 411 454 412 454 414 449 419 448 419 450 421 450 422 456 422 460 420 462 417 466 417 468 416 469 413 465 413 464 412 464 410 462 411 460 409 462 408 461 406 462 404 467 404 468 403 467 402 467 400 464 398 464 396 463 395 463 394 465 392 465 390 464 389 466 387 465 386 466 385 468 386 471 386 469 385 468 383 467 384 465 384 459 380 461 378 462 379 461 377 462 376 462 374 464 372 468 372 469 373 467 375 467 376 465 377 465 378 467 377 469 377 470 379 474 381 472 382 472 383 474 383 475 382 474 379 473 379 471 377 473 376 473 373 474 372 476 372 476 370 479 366 478 365 479 363 487 363 488 362 488 361 490 359 489 356 494 350 494 349 497 345 497 341 498 340 498 338 494 336 495 335 493 331 493 328 495 326 493 323 490 323 487 320 488 319 486 318 487 316 489 316 489 315 487 314 488 313 487 311 487 308 488 307 487 306 487 303 489 301 489 298 487 299 485 296 487 292 486 291 486 289 484 285 481 285 480 286 478 285 476 285 472 287 472 288 470 289 470 291 468 293 465 293 462 290 462 288 461 287 461 284 459 283 458 281 455 280 454 281 454 285 453 286 453 289 451 292 449 288 447 286 447 285 445 284 445 285 443 287 444 289 443 291 441 289 441 287 440 286 438 287 437 286 437 281 436 280 438 279 438 278 436 278 436 280 435 281 430 282 431 284 431 288 430 289 430 291 429 292 427 292 426 291 426 285 428 282 426 282 425 280 428 276 429 276 431 274 436 274 438 271 440 274 440 276 441 276 443 274 443 272 444 271 449 271 450 270 453 270 457 266 459 266 458 264 460 263 457 261 457 255 458 254 454 249 455 247 457 247 458 244 453 238 453 237 455 236 459 232 458 231 458 228 459 227 460 227 462 225 464 225 467 222 468 222 469 224 471 225 471 226 474 226 475 225 478 226 479 227 477 228 476 230 478 229 480 229 480 228 482 227 482 226 480 225 477 225 474 221 474 220 471 220 470 219 470 216 469 216 467 219 465 218 463 214 463 211 462 211 460 209 458 210 458 213 457 214 451 217 449 217 452 221 451 222 451 224 450 225 447 224 442 230 441 229 442 227 441 226 439 227 437 225 437 223 438 222 437 220 437 218 438 217 438 211 437 211 433 207 431 207 431 209 427 211 426 210 427 207 426 206 423 207 420 204 421 201 419 200 418 201 412 201 411 203 412 205 412 207 411 208 409 208 408 207 404 207 403 206 403 201 402 200 405 197 408 197 406 195 406 194 403 192 403 195 401 197 400 196 398 197 394 194 395 191 398 188 398 187 392 187 390 185 389 182 391 180 391 177 392 176 393 176 394 178 395 178 395 177 394 176 394 173 392 170 390 172 388 170 391 167 393 168 396 168 395 166 397 164 399 164 401 162 403 163 401 165 401 167 403 167 407 170 406 171 406 175 409 179 408 181 408 180 410 178 414 178 414 177 417 174 418 174 419 172 422 172 423 173 422 175 419 177 418 179 418 181 423 181 427 178 429 180 429 181 431 181 433 183 432 182 436 178 438 179 439 177 441 177 441 175 443 173 442 172 443 170 446 171 449 174 452 175 454 173 455 174 455 177 457 178 459 177 461 177 463 179 470 179 471 178 475 182 475 184 477 186 477 187 479 189 481 193 480 196 478 198 482 202 483 204 486 204 487 205 486 206 487 209 489 209 490 207 487 204 488 202 486 201 484 202 482 199 484 197 486 197 487 198 490 198 494 196 497 198 498 197 503 197 504 198 504 199 502 200 502 209 504 209 505 211 504 212 502 211 501 212 502 212 504 215 501 218 501 219 501 218 504 216 505 217 507 217 508 218 505 221 506 223 507 223 509 225 508 226 505 226 504 225 502 226 500 226 499 227 499 231 502 231 503 230 503 228 505 226 508 229 509 228 511 230 511 231 513 231 514 232 514 234 519 234 520 235 520 242 519 243 520 244 519 245 520 247 519 249 521 252 523 252 525 255 524 256 524 259 526 260 527 263 529 263 530 264 530 265 528 266 530 268 530 271 533 271 536 273 534 275 533 275 533 276 535 276 535 274 537 272 539 272 540 271 541 273 543 272 543 271 541 270 541 267 542 266 544 267 547 266 552 270 551 272 550 271 548 271 548 273 552 273 553 272 555 273 556 280 554 282 553 281 550 282 550 283 548 284 549 286 547 288 547 289 549 289 551 291 547 296 550 300 552 299 553 300 553 302 550 304 550 307 551 308 550 310 550 313 551 314 553 314 554 313 556 314 558 316 558 317 559 317 560 315 560 313 561 312 563 312 561 311 561 309 560 308 560 306 562 304 564 304 566 306 565 308 567 310 567 311 569 311 571 309 573 312 575 312 576 313 574 315 574 317 571 319 570 321 570 323 567 325 564 324 564 327 566 329 566 330 564 332 565 333 565 335 561 338 563 340 564 342 564 344 569 344 569 343 571 341 577 338 581 338 584 340 584 343 588 341 584 338 585 336 584 334 585 333 582 329 583 328 585 328 587 326 589 326 592 323 592 319 595 316 597 318 601 318 602 319 602 321 603 323 603 319 605 318 607 314 609 314 610 316 611 316 610 315 612 313 616 316 617 316 619 312 621 313 622 312 621 310 621 308 622 307 624 308 627 307 628 308 628 310 631 310 632 309 637 308 639 304 640 305 644 305 646 303 647 304 649 304 651 306 650 305 650 303 651 302 653 302 652 300 654 299 655 300 655 302 659 304 659 306 657 308 657 309 658 309 661 306 664 307 663 306 664 304 666 304 667 302 671 302 673 299 674 301 676 301 677 300 679 301 679 300 681 298 683 300 684 300 687 304 689 305 691 303 695 303 696 302 697 303 700 303 702 305 704 305 707 303 709 305 708 307 708 309 709 308 711 309 712 307 713 307 714 309 715 309 714 307 716 305 717 305 721 309 721 311 722 312 726 310 730 312 731 313 731 315 732 317 733 316 732 315 734 314 734 312 730 310 731 308 733 308 735 309 738 312 741 309 745 309 747 307 749 307 751 308 752 310 754 311 755 310 758 313 759 311 761 311 762 312 763 311 765 311 767 312 768 310 770 310 771 311 772 310 774 312 774 313 776 312 777 314 782 310 784 310 785 311 788 309 789 310 791 309 793 311 793 314 792 316 795 314 797 314 798 312 800 311 803 313 806 313 808 316 810 316 812 318 811 320 812 320 813 322 815 323 815 325 816 326 817 325 821 325 822 326 825 323 827 325 827 326 824 329 827 328 831 331 832 328 834 326 836 326 837 324 840 324 841 325 840 326 842 328 842 330 841 331 841 334 839 335 841 335 846 341 846 342 848 342 849 344 852 344 853 346 856 346 859 343 864 343 867 340 868 340 869 342 871 343 874 346 876 346 876 343 878 339 880 337 882 336 884 336 883 335 883 332 884 331 884 328 886 326 886 324 887 323 891 323 892 324 892 326 892 324 891 323 893 322 896 319 896 316 897 315 899 315 900 317 900 315 901 314 906 316 905 314 910 309 911 307 916 311 915 312 918 313 920 311 920 310 917 307 917 306 922 301 924 300 926 301 929 297 932 299 939 299 941 296 944 296 945 297 949 297 950 299 951 299 952 301 954 303 955 303 960 299 961 297 961 295 966 289 964 288 965 286 965 284 964 285 963 284 963 282 964 281 967 282 969 284 968 285 968 287 969 285 968 280 969 279 971 280 973 279 978 279 979 277 982 278 985 276 989 276 991 274 993 274 994 273 996 274 998 272 1000 272 1004 268 1006 268 1009 266 1011 266 1011 263 1013 261 1015 261 1016 260 1017 260 1019 263 1021 263 1022 262 1022 260 1028 254 1029 252 1033 252 1035 251 1039 253 1042 253 1043 254 1045 254 1049 256 1052 256 1053 257 1055 257 1061 260 1063 262 1066 263 1074 269 1076 269 1076 116 366 116 367 119 363 122 361 119 363 117 363 116 362 117 361 116 349 116 348 117 346 117 345 116 341 116 340 118 338 119 337 121 337 123 339 124 341 128 339 130 339 132 338 133 337 133 335 131 335 133 333 135 333 136 337 136 338 135 340 137 342 137 344 139 343 141 341 141 340 140 339 141 340 142 339 144 342 147 342 150 340 152 342 151 344 152 345 150 347 150 348 149 348 145 350 142 350 140 354 137 356 137 357 138 356 140 356 142 355 143 353 143 354 145 358 142 359 142 362 145 362 146 364 146 365 147 364 148 359 149 360 151 358 152 357 154 354 154 352 155 352 157 351 158 349 158 349 159 351 159 352 161 354 161 356 159 358 159 363 164 363 166 362 168 364 168 366 171 367 170 369 172 368 173 368 175 366 177 364 177 363 178 365 182 364 187 365 188 366 187 367 188 367 191 365 193 364 193 361 197 360 197 359 196 359 194 358 194 357 199 355 201 352 200 350 197 346 195 346 189 345 188 342 190 341 189 339 189 338 191 338 193 334 195 334 196 332 198 332 202 331 203 329 202 328 204 326 204 324 208 326 210 325 211ZM454 410 455 409 457 410 456 411ZM449 384 450 384 452 386 452 391 453 392 452 393 451 393 449 391 449 388 448 387 448 385ZM451 384 452 383 456 383 458 385 458 386 460 387 458 389 455 389 451 385ZM457 381 458 380 459 382 458 383ZM459 375 460 376 460 378 459 379 457 377ZM460 374 461 373 462 374 461 375ZM454 373 455 374 455 377 453 379 450 378 449 377 453 373ZM456 373 458 372 459 374 457 375ZM469 370 471 369 472 371 470 372ZM449 370 450 369 451 371 450 372ZM451 362 452 361 453 363 452 364ZM455 358 455 357 457 355 459 356 461 355 462 356 462 357 458 360ZM453 355 454 354 456 355 455 356ZM464 351 465 350 466 351 465 352ZM445 338 447 337 448 338 448 340 447 341 445 339ZM571 336 572 337 568 342 567 341 567 339 569 336ZM452 334 453 333 454 334 453 335ZM397 332 398 331 399 332 398 333ZM570 328 571 327 572 328 571 329ZM831 326 832 325 833 327 832 328ZM568 326 569 325 570 326 569 327ZM569 324 570 323 572 325 570 326ZM840 324 842 322 843 323 842 325ZM443 322 444 321 445 322 444 323ZM452 318 453 319 453 321 451 322 450 320ZM597 315 599 314 601 316 599 317ZM432 314 433 313 434 315 433 316ZM797 311 798 310 799 311 798 312ZM573 310 577 308 579 310 577 312 575 312ZM409 305 410 304 411 305 410 306ZM647 303 648 302 649 303 648 304ZM627 303 628 302 630 302 631 304 630 305 628 305ZM420 304 422 302 423 303 422 305ZM409 303 410 302 413 302 415 306 413 307 411 305 411 304ZM444 301 447 304 444 307 443 307 442 306 442 304ZM416 302 417 301 418 302 417 303ZM438 300 437 303 436 304 434 304 432 306 430 305 428 306 427 305 427 303 429 301 433 301 435 299 437 299ZM432 300 433 299 434 300 433 301ZM614 297 615 296 617 297 616 298ZM413 297 414 296 416 297 415 298ZM410 297 411 296 412 297 411 298ZM463 295 464 294 465 296 464 297ZM442 293 444 292 445 294 444 295ZM445 290 446 289 448 289 449 290 448 291 446 291ZM602 289 604 287 606 289 606 290 604 291ZM575 287 576 286 577 288 576 289ZM440 269 442 267 443 268 442 270ZM409 256 410 255 411 256 410 257ZM407 239 408 238 409 239 408 240ZM452 231 454 229 456 230 456 232 455 233 453 233ZM452 227 453 226 454 227 453 228ZM389 225 390 224 391 225 390 226ZM369 224 370 223 371 224 370 225ZM459 223 460 222 461 223 460 224ZM370 223 372 221 374 222 374 224 373 225ZM368 220 369 219 370 220 369 221ZM348 217 349 216 351 217 350 218ZM367 215 369 214 371 216 370 217 368 217ZM400 212 401 211 402 212 401 213ZM352 211 353 210 354 211 353 212ZM326 210 327 211 327 213 325 214 324 213ZM400 209 401 208 402 209 401 210ZM399 207 400 208 400 210 399 211 398 210 398 208ZM393 205 394 204 395 206 394 207ZM353 204 355 203 356 205 354 206ZM416 203 417 202 419 203 418 204ZM411 203 412 202 413 204 412 205ZM336 203 338 202 337 201 338 200 340 201 341 200 343 202 343 205 342 206 340 206 339 205 337 205ZM394 197 395 196 397 197 396 198ZM388 192 390 191 394 194 393 195 389 195 388 194ZM382 184 384 183 385 185 384 186ZM366 183 367 182 368 183 367 184ZM364 181 365 180 366 181 365 182ZM367 179 368 178 370 180 368 181ZM365 179 366 178 367 179 366 180ZM366 178 367 177 368 178 367 179ZM407 176 408 175 409 176 408 177ZM380 176 382 175 383 177 381 178ZM455 172 456 171 457 172 456 173ZM422 172 423 171 425 172 424 173ZM407 170 409 169 410 171 409 172ZM446 167 448 169 448 171 447 172 444 169ZM442 168 443 167 444 168 443 169ZM383 168 387 165 389 169 388 170 385 170ZM366 166 367 165 371 167 374 167 376 165 378 165 379 166 379 168 377 170 376 169 376 171 374 173 373 173 371 171 370 171 369 170 369 168 368 169 366 167ZM378 165 380 164 382 166 380 167ZM382 164 382 162 384 161 385 163 383 165ZM402 161 403 160 404 162 403 163ZM375 162 377 160 379 161 379 163 378 164 376 164ZM381 158 382 157 383 158 382 159ZM377 157 379 156 380 158 378 159ZM408 157 410 155 412 156 411 158 409 158ZM362 153 363 152 364 153 368 153 370 152 372 154 372 156 371 157 369 156 364 156 362 154ZM378 150 381 148 383 150 382 151 379 151ZM368 148 369 147 370 148 369 149ZM380 143 381 142 383 144 381 145ZM339 143 340 142 342 143 341 144ZM373 140 375 142 374 145 372 147 369 147 368 145 370 143 370 142ZM368 139 369 140 369 143 367 144 366 143 367 142 366 141ZM357 140 359 138 360 139 359 141ZM343 141 346 138 348 138 349 139 349 142 348 143 345 143ZM364 135 365 134 366 135 365 136ZM359 130 363 134 362 135 362 138 361 139 360 139 359 137 357 137 356 136 358 135 357 134ZM349 120 350 119 353 120 356 123 357 123 360 126 360 127 358 129 356 129 354 127 353 127 352 125 350 124 350 122ZM347 118 349 120 347 121 347 123 349 126 348 128 346 128 343 124 344 123 344 121ZM284 122 285 124 286 124 289 127 291 128 294 128 296 130 297 130 297 129 299 127 298 125 300 123 301 124 303 124 303 122 305 120 307 120 309 124 309 128 307 129 308 130 312 130 313 131 314 130 316 130 316 128 319 126 316 124 318 123 318 122 320 120 321 121 325 121 325 118 323 119 321 116 296 116 295 117 294 116 291 116 290 118 290 120 289 121 287 121 286 122 285 121ZM308 129 309 128 310 129 309 130ZM313 120 316 123 315 125 313 124 316 126 314 128 310 125 311 124 311 122ZM315 120 317 119 318 121 316 122ZM311 120 312 118 314 119 312 121ZM276 116 276 119 273 122 275 126 275 129 277 126 279 126 281 128 283 128 284 126 280 124 278 122 279 121 280 116Z"/>
<path fill="#E6F598" fill-rule="evenodd" d="M457 419 455 418 454 420 456 420ZM458 368 458 369 460 371 462 369 460 368ZM462 363 461 363 461 364ZM416 331 414 331 412 333 410 333 408 332 407 333 407 335 408 336 410 336 411 335 414 335 415 334 413 333 414 332 416 332ZM418 319 416 320 414 320 414 322 416 323ZM421 318 420 318 420 319ZM421 313 421 315 423 315 423 314ZM453 304 452 305 453 305ZM428 298 427 298 426 300 428 299ZM470 294 471 295 473 295 473 294 472 295ZM421 294 419 295 419 297 422 296 420 295ZM480 290 475 290 476 291 476 294 475 295 476 296 473 299 472 302 470 304 470 306 468 308 464 306 462 307 461 309 461 311 460 312 460 314 458 315 458 317 459 318 457 322 458 323 456 325 455 325 457 326 459 326 460 327 457 331 458 333 457 335 457 339 458 341 456 343 455 343 456 344 455 346 456 344 458 344 460 345 463 348 463 347 466 345 466 342 467 340 464 336 466 335 465 333 465 330 468 327 471 330 471 334 475 336 473 340 474 342 474 344 472 346 473 347 472 348 469 348 469 349 473 352 473 354 475 355 475 357 473 359 472 359 473 360 475 359 482 359 483 358 481 358 479 356 480 353 483 351 486 352 485 351 486 350 488 350 489 349 489 347 491 346 493 343 493 339 490 334 490 331 488 327 486 327 482 322 483 321 482 319 483 318 482 317 482 315 485 313 483 309 483 306 482 304 480 303 480 297 478 295 479 293 481 293ZM463 343 464 342 465 343 464 344ZM459 338 460 337 461 338 460 339ZM476 336 477 335 478 336 477 337ZM476 332 477 331 478 333 477 334ZM477 329 478 328 479 330 478 331ZM480 328 481 327 483 328 482 329ZM471 325 472 324 475 324 477 326 477 327 473 329ZM475 323 477 320 479 320 481 322 479 324 476 324ZM468 313 470 314 470 316 471 317 469 319 468 318 465 318 464 317 464 316 465 315 467 315ZM473 313 474 312 475 313 474 314ZM470 309 468 311 466 311 466 314 465 315 462 313 462 311 464 309 467 309 468 308ZM477 305 478 304 479 305 478 306ZM478 303 479 302 480 303 479 304ZM473 299 474 298 475 300 474 301ZM692 284 694 285 694 284ZM551 253 551 255 552 256 553 254ZM532 251 532 252 533 252 533 251ZM450 251 449 252 450 254 451 253ZM558 250 557 249 555 252 558 251ZM406 245 407 247 409 247 408 245ZM584 241 584 242 585 242ZM449 234 448 235 449 237 450 237 450 235ZM380 221 380 222 381 222ZM428 216 429 217 430 216ZM384 215 383 216 384 217ZM510 213 510 214 512 214ZM411 213 410 214 410 219 408 221 409 226 411 228 411 229 410 230 407 230 407 231 408 230 411 230 412 231 412 233 413 232 414 233 414 237 416 238 416 240 417 241 417 242 415 244 414 244 412 251 413 253 418 253 419 254 417 256 416 255 414 256 415 258 418 258 421 262 420 264 415 266 415 271 416 272 416 274 419 276 418 278 419 279 421 278 423 274 425 273 426 271 429 268 430 268 431 266 433 266 434 267 435 266 438 266 437 263 439 261 439 259 435 257 436 255 436 253 437 252 439 253 439 254 442 258 444 258 445 259 442 262 442 263 440 264 440 265 442 263 444 264 446 264 447 266 449 264 450 264 451 263 450 262 451 257 449 257 447 256 447 258 446 259 445 257 442 254 443 253 443 249 444 248 446 248 447 246 444 244 444 239 442 235 441 236 436 236 433 234 432 232 435 230 433 229 431 227 431 226 429 227 428 226 429 224 431 224 431 222 429 223 428 222 428 220 427 219 425 219 426 221 424 223 424 224 420 226 418 224 420 222 419 219 421 217 422 215 422 213 416 216 414 216 413 215 413 213ZM416 266 417 265 419 265 421 263 423 266 423 269 422 270 421 269 421 267 419 267 419 268 417 269 416 268ZM422 263 424 261 425 262 424 264ZM413 230 414 229 416 229 417 230 419 229 421 229 423 232 421 235 420 233 418 235 416 233 416 232 415 232ZM418 215 419 214 420 215 419 216ZM429 212 429 213 430 213 430 212ZM513 206 511 208 513 208ZM386 205 387 208 387 205ZM360 200 361 203 360 204 358 204 358 205 360 207 360 211 362 211 363 212 364 211 363 210 367 208 368 209 371 209 371 208 369 206 369 204 366 204 363 201 362 202 361 200ZM383 194 382 195 380 195 378 194 379 196 381 195 382 196 382 200 381 201 379 199 378 200 381 203 377 206 380 207 382 205 382 203 381 201 385 198 386 198ZM508 193 508 195 509 196 509 193ZM489 193 489 194 490 194 490 193ZM373 190 371 191 372 193 374 192ZM383 187 382 188 382 190 383 190 384 188ZM377 186 375 188 376 190 376 189 378 187ZM469 173 468 174 469 174ZM429 172 429 175 430 174ZM464 168 461 169 461 170 463 172 464 170 466 170ZM462 170 463 169 464 170 463 171ZM450 165 452 167 452 165ZM367 125 370 128 372 129 374 129 375 128 375 126 377 125 375 124 372 124 370 126 369 125ZM382 123 381 124 381 126 383 126ZM387 116 387 117 389 119 389 121 388 122 388 124 386 128 390 130 390 131 388 132 388 133 389 134 390 133 389 132 393 127 392 126 395 123 398 122 399 124 398 125 396 125 395 128 397 128 398 130 400 131 400 132 397 136 394 136 393 135 392 136 393 138 392 139 388 139 390 139 391 140 387 148 386 149 385 148 388 151 388 153 390 153 391 152 395 152 396 153 398 153 399 151 398 152 396 150 396 149 394 150 391 148 394 145 395 145 396 143 397 143 399 145 398 147 403 147 404 146 405 147 406 146 408 146 408 144 407 143 407 141 408 140 406 139 407 137 405 134 406 133 405 134 403 132 403 128 402 127 402 126 404 124 405 124 408 128 406 129 409 131 410 133 410 135 414 137 414 139 416 141 416 142 418 141 420 142 420 144 419 145 420 146 419 148 420 150 418 151 420 155 419 156 417 156 417 157 420 157 425 153 427 153 431 155 431 156 428 158 433 158 435 156 436 156 437 158 439 158 440 159 440 161 439 162 437 162 435 164 433 163 431 164 430 163 430 169 432 171 434 171 435 170 435 168 438 165 439 165 439 162 440 161 441 162 443 161 443 159 442 157 443 155 445 154 446 155 445 156 447 158 445 160 447 160 450 162 452 162 453 163 458 163 459 162 462 162 463 163 465 163 467 162 469 165 468 167 468 169 469 169 470 171 472 172 475 172 476 173 476 175 477 177 476 178 474 178 477 178 478 179 478 182 480 185 485 185 487 187 487 189 488 189 490 191 491 190 489 189 488 187 489 186 492 187 493 188 493 191 494 192 493 193 495 193 496 194 497 194 497 193 499 191 503 193 503 191 502 190 498 190 495 187 497 185 502 185 504 183 506 184 508 183 509 184 510 182 512 181 511 180 513 178 514 178 517 181 520 181 520 180 522 179 524 182 524 184 525 184 527 186 527 187 525 188 526 190 526 192 525 194 528 194 529 195 528 196 526 196 527 198 527 202 526 203 525 202 524 203 522 203 516 195 514 195 514 199 513 200 511 200 509 199 512 201 515 201 515 200 517 199 519 202 518 204 518 206 520 207 519 208 519 210 520 210 523 214 523 216 522 217 521 216 519 216 520 218 519 220 522 223 522 229 523 231 524 229 525 229 527 232 528 231 528 230 525 227 525 224 524 222 525 221 527 221 530 218 531 220 532 220 533 218 532 217 530 218 528 218 527 217 527 214 528 213 530 214 531 213 534 213 535 212 534 211 534 209 535 208 535 205 536 204 539 204 543 208 544 210 541 212 539 212 538 214 538 216 536 218 536 222 540 224 541 224 543 222 544 223 544 226 546 227 546 229 547 230 545 232 542 232 542 233 540 235 539 234 539 231 538 231 534 235 534 237 535 237 538 241 537 243 534 243 531 239 527 241 530 241 532 244 534 243 536 244 537 243 539 243 540 244 539 247 541 244 543 244 543 241 546 235 547 234 549 234 550 236 547 239 546 239 546 241 547 242 546 243 546 245 549 245 550 243 553 243 554 242 556 244 559 243 562 246 563 246 565 243 564 242 563 243 561 241 561 240 562 239 564 240 566 238 567 238 568 236 570 236 571 237 573 237 574 236 575 237 578 237 579 236 581 236 582 237 584 236 590 236 593 240 591 241 592 243 592 245 591 247 593 247 594 248 595 247 596 249 597 249 599 246 599 244 596 245 595 243 593 242 593 239 594 238 593 237 593 233 594 232 596 232 598 233 602 237 602 241 603 242 603 244 605 246 605 244 609 242 610 243 612 243 614 245 613 246 613 249 615 248 614 247 615 245 618 245 619 247 621 247 623 248 625 252 627 253 629 253 631 255 631 257 630 258 632 258 634 260 634 263 635 265 636 265 640 269 642 270 642 272 645 276 645 277 642 279 640 278 640 279 638 281 636 279 635 279 635 283 636 284 636 286 637 286 640 283 643 283 645 284 646 286 648 285 652 285 653 284 655 284 658 286 660 286 661 285 660 284 661 283 664 283 665 284 665 286 667 284 670 284 668 284 667 283 667 280 668 279 667 278 670 275 671 277 674 274 676 274 677 275 677 277 675 278 675 279 676 279 678 281 678 282 681 282 682 283 681 284 682 286 684 284 687 284 688 283 690 283 690 281 691 280 692 280 693 282 694 282 693 281 694 279 698 279 699 280 697 282 697 283 700 281 702 281 704 283 704 284 703 285 700 285 702 285 703 287 707 287 708 288 707 290 710 290 712 292 713 292 716 288 718 287 720 287 722 289 720 293 721 293 723 296 726 294 728 296 732 294 732 291 733 290 737 290 738 292 738 290 735 285 735 283 736 282 737 283 744 283 744 281 745 280 748 283 746 285 746 286 742 289 744 291 748 291 750 288 752 289 756 286 757 286 755 284 755 281 757 280 763 285 760 288 760 289 762 289 762 287 764 285 767 285 769 286 772 284 772 283 770 281 770 278 773 276 775 279 774 281 778 284 780 284 782 286 781 287 777 287 775 289 774 288 775 289 773 291 773 293 774 294 773 295 773 297 775 297 776 298 778 296 779 298 781 297 783 297 784 296 787 296 790 293 792 292 794 294 792 296 795 295 796 297 797 297 798 295 800 298 802 298 804 300 805 299 809 299 813 301 815 303 815 304 818 301 819 302 823 300 825 301 829 301 831 299 832 300 837 300 839 302 841 302 842 303 850 303 851 304 855 304 857 307 859 307 860 308 860 306 862 304 865 304 866 305 868 304 870 305 871 304 874 305 875 304 877 306 877 308 875 311 874 310 871 310 870 309 871 310 871 312 872 313 872 316 873 317 871 319 871 321 870 322 870 324 871 325 869 327 870 327 871 326 871 324 873 322 875 323 877 321 880 321 881 319 881 317 884 315 884 311 882 309 884 307 884 304 885 303 887 303 888 302 893 302 894 300 895 301 898 301 899 298 905 292 906 294 908 293 906 293 905 292 906 291 912 289 913 286 915 285 914 284 916 282 918 284 918 285 920 284 924 286 928 286 928 284 927 283 929 282 929 279 930 278 934 278 935 279 937 279 938 280 939 279 940 280 942 279 944 276 945 276 948 278 946 279 946 281 950 281 952 277 952 275 953 274 955 276 956 276 956 274 958 271 960 271 961 269 962 269 964 271 965 270 968 270 969 268 971 270 973 268 977 270 978 269 983 269 984 268 987 268 989 266 991 266 992 267 992 265 993 264 994 266 997 265 1002 260 1001 257 1003 256 1003 255 1006 252 1008 252 1009 250 1010 251 1014 251 1015 250 1020 250 1021 251 1023 251 1026 245 1028 243 1030 243 1030 241 1032 238 1035 238 1037 241 1037 243 1033 248 1034 250 1038 250 1039 251 1041 251 1042 252 1044 252 1048 254 1051 254 1052 255 1057 256 1059 258 1062 259 1064 261 1076 267 1076 116 447 116 446 117 445 116ZM779 289 780 288 781 289 780 290ZM746 289 747 288 748 289 747 290ZM678 281 679 280 680 281 679 282ZM725 279 726 278 728 279 727 280ZM729 278 731 277 733 279 733 280 732 281 731 280 730 281 729 280ZM727 278 728 277 729 278 728 279ZM670 275 671 274 672 275 671 276ZM652 272 653 271 655 271 657 273 657 274 655 275ZM640 266 641 265 642 267 641 268ZM991 264 992 263 993 264 992 265ZM558 242 559 241 560 242 559 243ZM608 239 609 240 609 242 607 243 606 241ZM540 239 541 238 542 239 541 240ZM539 237 540 236 542 236 543 237 542 238 540 238ZM567 231 569 230 570 232 569 233ZM530 206 531 205 532 206 531 207ZM519 206 520 205 523 205 524 206 524 208 523 209 522 207 520 207ZM531 203 532 202 533 203 532 204ZM532 190 533 189 535 190 534 191ZM539 184 541 186 541 187 538 192 540 193 540 195 542 198 542 200 540 201 539 200 539 198 538 198 535 201 533 201 531 197 533 195 533 193 536 190 537 190 536 190 535 188ZM488 184 489 183 490 184 489 185ZM532 179 533 178 534 179 533 180ZM483 178 486 178 487 179 487 184 486 185 484 183 482 183 481 182 483 181 482 179ZM479 176 480 175 481 176 480 177ZM478 175 479 174 480 175 479 176ZM481 165 483 166 483 168 484 169 483 171 482 171 480 169 481 168 480 167ZM470 166 471 165 472 166 471 167ZM486 159 487 158 491 162 491 163 489 164 487 162ZM394 141 395 140 396 141 395 142ZM398 139 400 138 401 139 404 139 406 141 405 142 403 141 401 141 400 142 398 140ZM403 122 404 121 405 123 404 124ZM399 122 400 121 401 122 400 123ZM400 119 401 118 402 120 401 121ZM401 117 402 116 403 118 402 119ZM394 116 396 117 396 122 395 123 393 120 393 117Z"/>
<path fill="#FEE08B" fill-rule="evenodd" d="M478 345 476 345 477 346 476 348 476 350 477 352 480 348 478 346ZM481 344 483 345 482 346 484 346 483 344ZM483 334 484 335 484 337 483 338 484 338 486 340 486 342 485 343 490 342 490 340 488 339 487 337 484 335 484 334ZM461 320 462 322 463 321ZM876 284 876 285 879 288 880 290 879 292 882 295 882 290 881 288 882 287 887 287 888 288 889 287 885 284 883 286 882 286 881 284ZM816 288 820 291 825 291 829 289 830 290 835 290 835 289 837 288 838 289 842 289 844 290 845 292 847 292 847 291 850 287 849 286 852 284 850 284 849 286 848 285 843 285 842 286 840 284 841 281 839 280 839 278 837 278 836 279 834 277 823 277 823 279 825 281 825 282 822 284 818 284 816 286ZM846 274 846 275 847 275ZM918 270 917 270 915 272 915 273 916 273 918 271ZM829 265 828 266 828 268 830 270 831 273 833 270 834 272 836 274 837 274 838 272 835 271 833 269 831 270 828 267 829 266 833 266 832 265ZM836 263 836 264 837 264 837 263ZM1070 259 1070 260 1071 260 1071 259ZM752 257 752 259 754 259 754 258ZM718 256 718 257 719 257 719 256ZM836 253 834 254 834 255 832 257 831 257 830 259 832 261 835 261 837 257 839 256 838 256ZM955 248 954 250 955 252 956 252 956 249ZM905 248 906 249 906 251 907 251 910 254 910 255 912 254 914 255 916 253 916 251 917 250 917 248 915 247 910 247 909 248 906 247ZM910 250 912 249 913 251 912 252ZM667 246 666 248 668 248ZM1041 243 1042 245 1045 245 1045 244 1043 244ZM871 239 871 241 872 243 876 246 877 246 877 244 876 243 876 241 877 240 875 240 874 242 872 240 872 239ZM860 238 863 238 863 237 861 237ZM430 232 430 233 429 234 427 234 426 236 419 243 419 244 421 246 421 248 420 250 421 250 423 248 424 250 426 249 430 249 429 247 431 246 429 246 428 247 423 247 422 246 423 243 425 242 425 241 427 239 430 239 432 238 430 236 431 235 431 233ZM1046 232 1046 233 1043 236 1043 239 1045 241 1052 238 1053 236 1055 236 1056 237 1054 240 1057 239 1060 243 1060 245 1058 246 1057 244 1054 244 1053 242 1052 244 1047 245 1048 246 1048 248 1047 249 1045 249 1046 249 1049 252 1051 251 1054 251 1056 254 1057 253 1059 254 1063 252 1065 253 1064 254 1065 255 1066 255 1067 253 1070 256 1071 256 1073 254 1073 253 1071 251 1068 253 1067 251 1061 251 1059 253 1058 253 1055 250 1056 249 1058 249 1058 247 1059 246 1062 246 1064 249 1065 249 1063 247 1065 245 1067 248 1068 248 1069 246 1071 247 1071 245 1070 244 1070 240 1069 241 1067 239 1068 238 1067 237 1060 237 1059 236 1057 237 1052 232 1052 231 1051 232ZM1063 241 1065 240 1067 242 1065 244 1063 242ZM889 229 888 230 891 232 891 230ZM863 225 862 226 863 226ZM569 194 566 194 567 199 567 198 569 197 570 195ZM562 189 561 188 560 190ZM504 172 506 171 504 171ZM489 167 490 169 490 171 488 172 489 173 490 171 494 171 492 167ZM502 165 501 164 499 165 496 165 497 166 499 165 500 166ZM504 162 504 163 506 164 506 163ZM464 156 463 156 462 158 464 157ZM515 153 514 152 512 153 512 154 514 154ZM458 151 456 151 455 153 453 154 452 156 451 156 451 158 453 159 454 158 455 159 458 159 458 157 456 156 456 154 458 152ZM510 149 509 151 510 151ZM463 145 461 145 461 146 463 148 462 150 462 149 465 147 464 147ZM417 128 416 128 415 130 417 130ZM421 122 423 127 424 127 426 130 426 134 425 135 423 134 423 136 424 137 423 140 424 141 425 141 424 140 425 139 427 140 427 144 429 146 428 147 428 150 430 152 431 150 431 146 432 145 434 145 437 147 437 146 434 142 436 140 437 140 439 143 441 143 445 146 444 147 444 149 445 151 447 150 450 150 453 148 451 146 452 145 451 142 450 141 448 142 446 142 444 140 444 138 443 137 443 135 445 133 444 132 444 130 446 128 446 126 447 125 446 123 449 121 451 123 451 124 449 126 450 127 450 129 449 130 449 133 451 135 451 136 449 138 451 138 452 140 453 140 455 138 456 138 459 134 462 137 464 138 464 140 463 141 465 143 466 142 468 143 470 143 472 142 473 143 472 145 473 144 474 145 476 144 478 145 479 147 481 148 483 147 486 150 485 151 481 151 479 154 477 154 475 153 472 150 473 152 471 154 472 155 474 154 475 155 480 155 482 151 484 153 484 152 486 151 487 152 489 152 491 154 494 151 495 149 499 147 501 149 501 150 503 150 508 146 511 147 512 146 516 146 517 145 519 147 519 149 522 152 521 153 524 156 526 155 529 158 532 159 534 163 536 163 538 160 540 160 541 161 540 162 542 164 541 165 539 165 539 168 542 168 544 169 545 167 549 169 551 172 553 172 555 174 557 178 558 177 560 177 561 178 561 180 560 181 558 181 558 182 560 184 561 182 563 182 564 184 566 185 566 188 565 189 565 191 566 191 565 189 567 188 569 190 570 189 574 193 573 194 573 196 574 198 572 199 573 201 572 202 571 202 569 200 568 201 569 201 570 203 571 203 576 208 578 209 579 208 581 209 582 208 583 210 585 209 586 210 585 212 586 213 587 212 590 213 592 211 595 212 597 214 597 215 599 214 601 214 603 218 605 217 608 219 606 221 605 220 604 221 604 222 605 222 608 225 610 225 611 224 614 228 615 228 617 226 621 228 621 230 622 231 622 232 620 233 621 235 623 234 626 238 635 238 636 239 638 239 640 241 640 243 642 243 643 242 643 239 646 237 647 237 650 240 651 242 656 241 657 242 656 243 659 240 661 239 663 242 664 240 668 242 667 241 669 239 670 240 670 242 672 244 673 244 676 238 679 238 682 241 682 243 683 245 685 245 687 246 688 248 689 248 689 246 688 245 689 244 690 244 693 248 698 248 702 244 704 244 705 245 705 248 710 248 711 249 714 248 718 251 717 253 719 253 719 251 722 248 724 247 726 247 728 249 729 252 733 255 734 253 737 254 739 252 741 252 743 251 744 252 744 255 745 256 745 254 744 252 745 251 746 252 746 250 748 249 749 247 750 247 752 245 754 245 755 246 756 245 758 245 761 242 762 240 764 240 766 239 767 237 772 233 772 231 773 230 772 228 774 224 774 221 772 220 774 216 773 209 775 208 775 204 777 202 777 198 778 197 780 198 782 197 785 197 785 195 786 194 790 194 792 192 794 191 796 191 797 190 798 191 800 188 802 191 803 191 805 189 808 189 810 191 810 192 812 193 812 195 813 196 813 200 811 202 805 202 807 203 806 205 807 206 805 208 802 208 802 210 801 211 799 209 798 209 798 210 796 212 795 212 792 208 790 209 789 211 787 212 786 215 788 217 788 218 786 220 786 222 787 223 787 228 789 229 789 231 788 232 788 236 792 231 795 232 796 233 795 234 795 236 803 241 803 242 801 244 804 247 807 247 808 244 809 243 810 244 808 239 811 237 812 238 812 241 813 242 813 245 814 246 818 248 820 247 822 247 824 245 825 245 826 247 827 246 829 247 831 243 831 239 829 237 829 233 832 229 833 230 837 230 838 232 840 233 840 234 842 234 845 237 845 238 843 239 844 241 844 243 847 242 847 241 845 240 846 239 850 239 852 237 854 238 857 236 856 234 856 232 857 231 857 228 858 227 862 230 862 233 863 234 862 233 863 231 865 232 866 234 868 234 869 233 872 236 875 236 876 238 879 238 881 239 881 237 879 235 879 234 881 232 881 230 883 228 884 230 886 230 885 228 885 226 887 224 889 224 890 223 896 223 897 225 899 226 897 229 895 229 895 230 893 231 895 231 897 233 899 233 900 232 904 234 905 235 904 237 904 242 905 242 907 244 907 245 907 244 909 242 910 242 916 237 919 237 921 234 922 235 925 235 928 238 928 243 930 245 930 246 931 246 932 248 934 248 935 249 934 250 934 252 938 252 941 250 942 251 944 250 944 248 947 246 947 244 948 243 955 243 957 245 957 246 959 247 962 247 963 245 977 245 978 244 980 245 987 245 989 246 991 244 993 245 996 242 998 242 999 243 1004 243 1005 242 1007 242 1009 240 1012 240 1013 241 1015 241 1017 237 1019 237 1022 234 1024 234 1024 233 1026 231 1027 232 1029 229 1031 228 1033 228 1036 225 1039 226 1041 222 1043 221 1048 221 1049 220 1052 222 1051 220 1051 218 1052 217 1053 217 1054 219 1057 222 1057 225 1058 226 1061 226 1063 225 1068 231 1068 233 1069 233 1073 237 1076 237 1076 116 451 116 451 117 448 121 447 120 445 121 442 118 442 116 426 116 425 119 422 122ZM736 253 737 252 738 253 737 254ZM802 244 803 243 804 244 803 245ZM683 243 684 242 685 244 684 245ZM695 241 698 244 698 245 697 246 696 245 694 247 693 247 692 246 692 244ZM677 236 678 235 679 237 678 238ZM904 233 905 232 906 233 905 234ZM879 231 880 230 881 231 880 232ZM868 227 870 227 871 228 871 229 869 230 869 231 871 232 870 233 868 233 867 232 867 228ZM837 223 838 222 839 224 838 225ZM875 219 878 222 878 226 880 228 879 229 877 229 876 232 872 234 871 233 872 232 872 230 871 229 871 225 873 224 873 221ZM855 222 857 219 858 219 859 221 860 220 862 220 863 221 864 219 866 219 867 220 872 220 873 221 873 223 872 224 870 224 868 225 868 226 866 227 866 228 864 230 862 228 860 228 859 227 860 225 859 224 856 224ZM839 215 840 214 841 215 840 216ZM828 214 829 213 830 214 829 215ZM848 211 851 214 852 216 849 220 847 220 847 223 845 225 843 224 841 225 840 224 840 221 839 220 842 217 842 216 847 211ZM842 212 843 211 844 212 843 213ZM844 210 846 208 848 209 847 211 845 211ZM836 209 837 208 838 209 837 210ZM595 211 597 208 599 209 599 211 598 212 596 212ZM837 208 838 207 839 208 838 209ZM581 207 583 206 584 208 583 209ZM587 207 590 204 592 205 592 206 590 208 588 208ZM574 203 575 202 576 203 575 204ZM577 201 579 199 583 197 585 199 585 203 586 203 587 205 586 206 585 206 583 204 581 205 579 204 577 202ZM488 150 488 149 491 147 493 149 490 151ZM434 145 435 144 436 145 435 146ZM481 144 482 143 483 144 482 145ZM492 145 496 142 498 142 499 143 498 145 494 147ZM432 141 433 140 435 141 434 142ZM476 138 478 136 480 136 482 138 482 139 480 140ZM462 136 463 135 465 136 464 137ZM454 129 456 128 457 130 455 131ZM466 126 467 127 467 130 465 131 463 129ZM426 124 428 125 428 129 427 130 425 129 425 127 424 126ZM491 117 492 116 493 117 492 118ZM409 118 413 121 413 123 415 126 418 126 419 125 419 123 416 124 414 122 414 121 416 120 417 118 421 118 423 117 421 116 410 116Z"/>
<path fill="#FDAE61" fill-rule="evenodd" d="M626 218 626 219 627 219 628 221 629 221 631 223 633 222 631 218 629 219 628 218ZM918 201 918 202 921 202 920 201ZM869 187 869 188 870 188ZM591 186 590 186 590 187ZM579 178 579 180 581 182 581 184 582 184 581 183 581 180 582 179 581 178ZM775 177 773 177 771 179 771 181 772 181ZM559 167 560 168 561 167ZM944 150 940 152 942 152 944 151ZM931 145 930 146 931 146ZM931 141 931 143 933 143 934 142 933 141ZM925 136 926 137 928 136ZM476 131 476 132 477 132 477 131ZM474 129 473 130 472 129 471 130 473 131ZM904 125 903 125 903 126ZM485 125 487 126 490 125 487 125 486 124ZM513 135 513 132 512 132 509 129 510 128 510 125 508 124 507 121 505 121 504 122 504 125 506 127 504 129 502 128 502 126 500 125 498 125 497 126 494 124 493 125 494 126 493 128 491 128 490 127 486 129 487 130 489 129 490 130 488 132 487 132 491 132 493 134 493 136 495 136 496 134 495 133 498 130 499 132 502 132 504 131 505 133 507 132 509 134 511 135ZM944 120 944 121 945 121 945 120ZM937 118 936 118 936 119ZM457 117 456 118 457 118ZM939 118 941 119 944 116 939 116ZM913 116 909 116 909 122 913 119ZM517 116 519 118 519 119 524 119 525 120 525 121 523 122 518 128 519 129 518 130 520 132 519 134 520 135 520 137 523 142 526 142 528 144 531 145 535 150 535 153 537 153 539 152 542 155 543 155 546 158 546 159 547 159 547 156 549 154 551 155 551 158 550 159 551 159 551 155 552 154 554 154 556 158 553 162 558 162 560 164 565 162 566 164 569 164 570 165 570 167 572 169 572 170 570 171 570 172 573 172 574 173 574 176 577 177 577 176 579 174 581 174 584 176 586 180 589 180 590 182 592 183 592 184 593 183 595 184 594 182 598 180 599 181 598 183 598 185 600 188 599 189 601 189 603 188 605 190 605 193 606 194 605 195 605 197 606 198 606 200 610 203 611 201 615 201 617 200 619 204 621 205 619 210 622 210 623 211 624 209 627 206 628 207 628 209 626 211 628 212 630 211 632 213 634 213 637 215 639 214 640 215 641 213 643 213 644 214 644 216 645 218 647 219 650 219 651 218 652 219 655 219 659 216 657 214 659 212 663 215 663 217 665 214 667 214 668 213 669 214 672 214 673 215 675 215 676 213 675 213 674 211 676 210 678 212 678 210 679 209 680 211 681 211 683 213 689 215 692 220 694 220 698 223 699 226 701 226 703 224 706 226 704 228 705 230 707 231 706 230 708 228 710 228 712 230 712 234 713 235 713 233 716 231 717 232 719 232 722 236 726 234 728 237 730 237 736 234 737 235 739 235 742 232 744 231 745 232 748 232 750 231 749 230 750 228 751 229 752 228 754 228 756 226 758 228 758 227 756 226 758 225 758 223 757 221 758 220 762 220 763 219 763 217 761 215 761 212 763 210 763 208 764 207 763 205 765 204 765 201 764 200 766 199 765 197 765 195 766 194 764 192 764 191 765 190 765 188 768 185 767 184 767 179 769 177 766 177 765 175 767 172 768 172 769 174 770 174 772 172 777 172 777 168 778 167 781 167 782 168 781 170 782 169 786 169 787 168 789 169 794 169 795 168 797 168 801 171 803 170 804 172 807 174 807 171 808 170 811 171 813 173 814 173 815 171 818 171 819 172 821 172 823 171 826 174 828 174 829 175 832 174 833 175 836 175 837 176 844 176 846 178 848 178 849 177 851 179 849 183 847 185 848 186 851 183 853 184 853 183 857 180 862 181 864 183 865 183 866 181 868 181 869 182 872 182 874 184 874 186 873 188 875 190 875 191 881 191 883 192 883 190 884 189 886 190 888 189 889 187 890 188 892 187 893 188 893 191 894 192 893 193 895 193 896 191 905 191 909 197 915 197 917 196 916 195 917 194 921 194 923 196 922 198 925 198 926 199 926 202 929 202 930 201 932 201 936 204 938 202 942 202 943 203 942 204 942 207 943 208 941 210 940 210 939 212 939 215 942 218 940 219 941 220 941 223 946 228 946 229 949 232 949 233 953 236 957 234 958 232 965 232 967 233 968 231 970 233 972 232 974 232 975 233 974 232 976 231 977 232 980 232 983 234 987 234 987 233 990 231 991 231 992 233 993 233 994 232 996 232 999 229 1003 229 1004 228 1006 229 1007 228 1010 231 1013 232 1014 231 1016 231 1020 229 1023 225 1027 225 1034 219 1036 219 1036 217 1037 216 1041 214 1043 215 1045 215 1050 210 1053 210 1055 208 1059 206 1062 206 1063 205 1069 205 1071 208 1074 208 1076 210 1076 212 1076 208 1075 207 1076 206 1076 116 952 116 952 118 954 120 954 123 955 124 954 125 954 128 953 129 953 135 954 136 954 139 953 140 953 147 954 148 954 151 953 152 952 159 949 161 945 158 944 159 937 159 936 158 931 158 930 157 928 157 927 158 926 157 915 157 914 156 905 156 904 155 901 155 899 153 901 152 901 150 900 150 899 152 895 155 891 155 890 154 870 154 869 153 859 153 858 152 848 152 847 151 837 151 836 150 826 150 825 149 814 149 813 148 804 148 803 147 794 147 793 146 785 146 782 143 783 141 787 137 787 136 790 134 791 131 800 120 802 116ZM725 232 726 231 728 232 727 233ZM980 231 981 230 982 232 981 233ZM665 210 666 209 668 211 666 212ZM1069 204 1070 203 1072 203 1074 205 1074 206 1073 207ZM942 204 943 203 945 204 944 205ZM944 203 945 202 946 203 945 204ZM943 200 943 198 944 197 948 197 949 198 949 199 948 200 946 200 945 202ZM610 195 611 194 612 195 611 196ZM601 186 602 185 603 186 602 187ZM748 172 749 171 750 172 749 173ZM758 172 762 170 765 173 765 174 763 176 761 174 759 175 758 174ZM571 171 572 170 573 171 572 172ZM740 161 744 161 746 163 750 165 751 168 750 170 748 171 748 173 747 174 745 174 742 171 741 172 739 172 736 170 736 167 737 166 739 166 737 164ZM560 158 562 157 563 158 563 160 562 161ZM539 151 541 150 542 152 540 153ZM536 148 537 147 538 149 537 150ZM533 144 534 143 535 144 534 145ZM476 116 475 116 475 117 472 120 471 120 470 122 470 126 472 127 473 126 474 127 476 126 478 123 477 121 477 117ZM473 120 474 119 476 120 475 121ZM468 117 469 116 471 116 468 116ZM433 116 432 117 433 118 433 128 434 129 432 131 432 133 436 131 440 134 440 130 439 129 439 125 438 124 438 123 440 122 439 121 437 122 435 119 435 117ZM436 127 437 126 438 127 437 128Z"/>
<path fill="#F46D43" fill-rule="evenodd" d="M951 214 954 218 954 220 955 222 957 222 958 223 958 225 960 226 964 226 968 222 970 222 971 221 971 219 970 220 967 219 966 217 962 214 962 213 959 213 958 212 953 212ZM742 210 742 214 744 215 743 210ZM717 210 717 211 718 211ZM548 124 550 127 550 129 552 130 554 132 554 133 559 132 560 133 560 135 561 135 562 137 564 135 567 138 566 140 568 143 570 143 572 145 571 146 571 148 572 150 573 150 573 149 575 147 578 147 579 146 581 148 581 149 584 151 584 153 585 154 586 152 587 153 590 153 591 154 588 160 590 160 592 158 592 156 593 155 594 157 596 157 597 159 599 160 597 162 598 164 599 164 598 162 601 160 603 162 603 165 602 166 600 166 605 170 610 170 612 172 610 175 611 176 610 177 612 179 615 179 616 180 618 180 619 179 621 181 621 186 623 187 626 187 627 189 631 189 632 188 633 189 635 189 637 191 639 191 640 192 646 192 647 193 652 192 654 190 655 190 657 192 659 192 660 193 663 192 664 194 666 193 668 193 670 194 671 193 670 191 672 189 674 188 677 188 678 189 678 192 680 192 682 194 682 196 682 193 684 191 688 195 688 197 690 201 692 203 692 204 694 204 696 203 698 205 701 206 704 209 706 209 708 207 709 207 711 209 711 210 712 210 713 208 715 209 715 208 711 205 712 204 714 205 717 205 718 206 719 205 720 206 720 209 721 209 725 212 728 212 730 210 731 211 733 210 734 211 738 211 740 212 740 207 741 206 746 205 748 201 749 203 752 203 753 201 752 201 751 199 754 194 754 191 749 191 747 189 744 189 743 187 737 187 733 184 731 184 730 185 727 185 724 187 722 187 720 189 718 187 719 178 720 177 722 178 722 176 718 172 720 170 720 167 721 166 723 166 723 165 730 159 731 156 733 154 740 154 742 152 744 152 745 153 748 153 749 152 751 153 752 151 758 154 760 153 762 153 763 154 763 156 767 158 767 157 770 154 772 153 773 154 775 154 776 153 779 155 782 155 783 154 788 160 789 160 794 156 796 157 802 157 803 156 810 156 812 158 811 160 812 159 814 160 816 160 817 159 821 159 822 158 825 158 826 159 827 158 829 160 830 159 834 162 836 161 842 161 844 163 852 163 853 164 855 164 857 166 861 168 867 168 869 170 871 170 872 171 873 170 875 171 877 169 879 170 886 169 889 173 890 172 892 173 893 171 899 171 900 172 902 171 906 171 908 173 910 173 911 172 914 174 916 174 918 175 921 178 920 179 922 179 924 178 926 180 926 181 928 182 929 181 929 178 930 177 932 178 934 175 938 175 939 176 938 178 938 180 941 184 943 184 943 182 944 181 949 182 950 180 951 182 952 181 954 182 953 184 954 185 957 185 958 186 960 186 962 187 963 189 965 189 968 187 970 187 972 189 972 194 971 195 973 195 974 196 977 195 979 197 981 197 985 192 986 193 986 197 985 198 986 200 983 203 982 205 982 207 978 209 980 210 981 212 981 214 983 216 984 219 986 219 987 220 987 222 990 220 992 220 993 221 997 221 998 220 1002 220 1003 219 1008 219 1009 217 1015 214 1015 212 1016 211 1026 211 1026 208 1028 206 1030 207 1032 207 1034 205 1036 205 1040 201 1042 202 1044 202 1045 203 1047 201 1050 200 1052 196 1056 193 1057 193 1058 195 1060 196 1060 197 1068 197 1076 193 1076 116 957 116 960 119 960 121 963 127 965 129 970 139 970 141 971 143 974 146 977 152 977 154 979 157 979 160 976 164 971 164 968 162 961 162 960 163 958 162 951 162 949 163 945 161 935 161 934 160 923 160 922 159 918 159 917 160 915 160 911 158 908 158 907 159 906 158 902 158 901 157 896 157 895 158 893 158 889 156 872 156 871 155 860 155 859 154 854 154 853 153 841 153 840 152 838 153 837 152 826 152 823 150 817 150 816 151 815 150 812 150 811 149 809 150 808 149 802 149 801 148 791 148 790 147 782 147 781 146 777 146 775 144 775 143 778 140 784 137 784 136 788 132 787 131 799 118 799 116 790 116 789 117 788 116 771 116 770 117 768 116 758 116 755 119 752 119 751 120 749 116 563 116 561 117 562 118 562 121 563 122 562 125 564 127 564 128 561 130 558 130 557 129 558 124 560 121 558 120 559 117 558 116 556 116 557 118 554 120 556 121 556 124 552 128 551 127 551 125 549 123ZM743 194 744 193 746 196 744 197 743 196ZM686 185 688 187 688 188 686 190 685 190 683 188ZM958 178 960 177 963 180 964 180 967 183 967 185 965 187 962 184 962 183 958 180ZM858 164 859 163 860 165 859 166ZM601 160 602 159 603 160 602 161ZM741 126 742 125 743 126 742 127ZM789 122 790 121 791 122 790 123ZM760 120 761 119 762 120 761 121ZM791 117 792 116 795 118 794 119 792 119ZM552 117 551 116 536 116 536 117 540 121 540 123 541 125 539 127 538 125 537 125 538 127 537 128 534 128 533 129 531 129 527 131 527 133 526 134 524 132 523 132 522 134 523 135 524 134 530 134 530 133 532 131 534 131 535 130 536 130 537 132 539 131 540 132 540 134 542 134 540 132 542 131 544 128 544 126 543 124 546 122 546 119 548 117 549 118 551 118ZM550 117 551 116 552 117 551 118Z"/>
<path fill="#D53E4F" fill-rule="evenodd" d="M687 172 687 173 688 173ZM978 166 973 167 973 168 974 167 976 169 978 169ZM964 166 965 168 967 168 968 169 970 168 969 167 966 167ZM937 165 937 166 938 166 938 165ZM762 145 763 146 767 146 767 145ZM741 143 742 144 747 144 748 145 753 145 751 145 750 144 745 144 744 143ZM720 119 717 120 717 123 719 122 719 120ZM725 117 723 117 724 118 723 120 724 121 722 125 724 123 725 123 725 120 724 119ZM960 116 962 118 962 121 964 123 965 126 969 131 969 133 971 136 971 138 973 142 977 146 977 148 982 158 988 165 988 166 986 168 984 169 981 168 981 169 983 169 984 170 984 172 986 172 987 170 989 170 992 173 997 173 999 171 1000 171 1004 174 1007 174 1009 172 1010 172 1009 170 1005 170 1004 169 1002 169 998 171 996 169 994 169 990 166 991 165 998 165 999 166 1002 166 1003 165 1009 165 1010 166 1012 166 1015 169 1013 170 1013 173 1015 175 1015 176 1017 177 1019 177 1020 178 1017 182 1015 182 1014 184 1014 186 1012 188 1013 189 1011 190 1008 193 1007 193 1007 196 1006 197 1003 197 1002 199 1003 202 1001 204 1000 204 999 206 997 207 997 208 998 208 999 210 1003 210 1004 209 1006 209 1008 208 1010 204 1012 203 1015 199 1018 198 1023 194 1028 194 1033 191 1036 192 1038 190 1035 187 1035 185 1034 184 1035 183 1037 183 1039 181 1040 179 1040 176 1041 175 1043 175 1042 173 1040 172 1033 172 1032 171 1030 172 1028 172 1025 170 1022 172 1020 172 1019 171 1018 172 1015 169 1016 168 1018 168 1020 166 1024 166 1025 167 1027 167 1029 166 1031 168 1036 168 1040 170 1041 169 1043 170 1044 169 1044 165 1042 163 1042 155 1040 151 1041 150 1041 146 1040 145 1041 143 1041 136 1040 135 1041 133 1041 129 1040 128 1040 126 1038 124 1040 122 1039 120 1039 116ZM1019 175 1020 174 1021 175 1020 176ZM1031 147 1032 146 1033 147 1032 148ZM1031 142 1033 140 1034 141 1033 143ZM1030 123 1031 122 1033 123 1032 124ZM1028 119 1029 118 1030 119 1029 120ZM577 124 579 126 581 126 582 128 586 130 588 130 589 131 587 133 586 133 588 134 588 136 591 136 594 141 600 141 604 145 604 147 606 149 606 152 609 153 611 151 612 151 613 152 613 154 615 154 620 159 620 162 621 164 623 165 622 170 624 174 628 174 629 175 633 171 635 172 634 170 635 169 637 169 640 172 639 174 639 176 640 175 642 175 643 173 644 174 646 174 649 176 652 176 653 177 655 175 657 175 659 174 661 172 661 170 662 169 666 171 667 172 667 174 670 177 671 176 673 176 674 178 677 177 681 172 682 173 683 171 686 169 686 168 688 166 687 164 689 162 690 162 691 163 690 164 690 166 691 168 694 169 699 173 699 174 701 176 700 179 701 181 702 181 703 180 702 179 703 177 707 179 708 179 708 177 707 177 705 175 704 176 702 176 701 175 701 172 702 171 703 173 704 173 705 171 706 172 707 171 709 171 709 169 711 167 708 165 709 163 707 161 707 159 706 159 706 161 704 162 702 160 702 157 703 156 705 157 707 157 710 155 713 156 715 155 715 154 717 153 720 149 723 150 723 147 725 145 727 144 734 144 736 143 735 142 730 142 728 140 727 140 726 138 724 139 722 139 721 138 722 136 727 136 726 133 722 131 723 129 722 129 722 132 721 133 719 131 719 128 718 128 717 130 715 130 714 131 712 130 712 127 711 125 713 123 711 121 711 120 712 119 715 120 713 118 713 116 591 116 589 118 587 118 588 119 587 121 588 121 590 123 587 126 588 127 589 126 590 127 590 130 589 131 588 129 586 129 585 128 584 125 582 125 580 123 580 121 579 119 579 121ZM699 171 700 170 701 171 700 172ZM662 169 663 168 665 169 664 170ZM692 158 696 163 696 165 694 167 692 165 692 163 690 162 690 160ZM721 146 722 145 723 146 722 147ZM594 139 595 138 596 139 595 140ZM718 137 719 136 721 137 720 138ZM716 135 717 134 718 136 717 137ZM716 133 717 132 718 133 717 134ZM715 132 716 131 717 132 716 133ZM580 116 581 117 583 116ZM577 116 576 116 576 118Z"/>
<path fill="#9E0142" fill-rule="evenodd" d="M696 134 694 136 695 136 696 137 696 139 697 139 698 137 698 135ZM681 132 681 135 683 135 685 139 686 139 686 138 690 135 691 136 691 135 687 135 685 136 684 134 682 135 681 134 682 132ZM694 116 694 117 696 117 697 118 696 120 698 121 698 119 699 118 698 118 696 116ZM677 116 678 118 679 118 681 120 682 119 684 119 686 117 686 116ZM608 125 608 126 609 125 610 126 610 129 609 130 610 132 612 132 613 133 613 136 615 138 617 139 619 139 620 140 619 142 620 143 622 141 624 143 624 146 627 146 628 147 628 149 629 149 631 152 633 152 634 153 634 157 638 157 642 160 644 159 646 159 646 154 648 152 650 151 652 152 653 151 654 153 655 153 654 152 658 149 660 150 663 150 663 148 664 147 668 147 668 143 669 142 670 143 670 145 672 145 672 144 674 142 676 143 679 143 680 144 683 142 681 140 682 139 681 137 679 139 677 137 675 138 674 137 675 136 671 136 670 137 669 136 667 138 664 137 660 133 661 131 660 129 662 128 662 127 664 125 665 125 663 126 662 125 662 123 666 121 665 120 663 120 662 118 660 117 660 116 658 117 657 116 614 116 615 117 611 122 611 124 610 125 609 124ZM659 146 660 145 661 146 660 147ZM656 146 657 144 659 145 657 147ZM658 134 659 133 660 134 659 135ZM612 132 613 131 614 132 613 133ZM598 116 599 118 602 120 602 127 604 127 606 125 606 123 604 121 604 119 606 117 609 117 609 116Z"/>
</g>

<g fill="none" stroke="#000" stroke-width="2.5" stroke-linejoin="round" stroke-linecap="round">
<path d="M235.0 129.5 L646.2 129.5 L647.0 123.0 L653.0 123.0 L655.0 132.5 L662.0 134.5 L670.0 137.0 L676.0 136.0 L680.0 136.4 L685.7 139.3 L694.3 141.4 L701.4 145.7 L710.0 143.6 L720.0 146.4 L732.1 148.1 L722.9 152.1 L712.9 157.9 L704.3 163.6 L694.3 170.7 L702.9 170.7 L711.4 167.9 L710.7 173.6 L717.1 173.6 L727.1 169.3 L740.0 165.0 L748.6 159.3 L758.6 157.9 L754.3 162.1 L747.1 169.3 L755.7 168.6 L762.9 173.6 L768.6 176.4 L777.1 174.3 L788.6 171.4 L800.0 170.7 L801.4 176.4 L808.6 176.4 L812.1 179.3 L815.0 185.7 L805.7 185.0 L797.1 184.3 L788.6 185.0 L780.0 187.9 L774.3 189.3 L767.1 187.9 L764.3 196.4 L760.0 202.1 L755.7 207.9 L753.6 212.9 L757.0 209.5 L762.5 203.5 L770.6 194.7 L767.7 203.6 L763.0 215.3 L759.4 227.1 L757.1 238.9 L757.1 250.9 L760.0 260.0 L761.4 265.0 L765.0 266.8 L770.0 264.6 L774.3 262.1 L778.6 254.3 L781.0 247.1 L780.7 240.0 L776.5 229.5 L776.5 221.2 L779.4 214.2 L781.8 207.1 L785.3 203.6 L788.9 201.8 L794.8 198.8 L799.5 195.3 L800.6 190.6 L803.0 187.7 L808.9 190.6 L816.0 194.1 L821.8 197.7 L824.8 202.4 L825.4 209.4 L823.0 216.5 L818.3 221.2 L814.8 225.9 L817.1 230.1 L820.7 229.5 L825.4 223.6 L830.1 221.2 L833.6 223.6 L835.4 230.6 L837.2 241.7 L834.9 248.6 L831.2 249.5 L829.4 253.7 L826.6 255.6 L825.6 260.2 L821.5 265.3 L827.0 267.6 L830.3 269.4 L836.3 270.8 L842.8 269.0 L847.4 268.5 L853.0 264.4 L859.4 261.6 L865.5 259.7 L872.4 256.9 L878.0 254.2 L883.5 250.0 L888.1 246.8 L890.5 244.4 L889.0 241.2 L887.7 238.9 L888.1 236.1 L891.9 234.7 L901.1 234.3 L907.6 235.6 L910.4 236.6 L915.0 235.6 L925.0 232.5 L930.0 223.8 L928.8 220.0 L940.0 210.0 L950.0 204.5 L973.2 204.7 L1001.5 203.0 L1001.5 199.5 L1007.4 197.2 L1013.3 190.1 L1022.7 173.6 L1029.8 164.2 L1034.5 158.3 L1039.2 161.8 L1048.7 159.9 L1054.6 161.8 L1056.9 168.9 L1056.9 190.1 L1062.4 193.6 L1063.3 200.7 L1067.5 205.4 L1065.2 209.0 L1059.3 211.8 L1053.4 216.0 L1046.3 215.6 L1040.4 213.7 L1038.1 219.6 L1031.0 220.8 L1025.1 226.7 L1021.6 232.5 L1014.5 238.4 L1012.4 240.0 L1011.2 241.8 L1007.7 250.0 L1007.1 254.7 L1011.2 257.1 L1014.2 263.0 L1018.3 264.6 L1023.0 264.0 L1023.6 261.8 L1021.5 258.6 L1020.3 259.3 L1022.0 262.0 L1021.0 263.2 L1018.0 266.5 L1014.2 266.8 L1009.0 268.8 L1005.4 268.9 L1003.5 270.5 L995.3 271.8 L985.0 274.0 L975.0 276.3 L967.7 277.1 L963.0 285.4 L963.8 287.5 L962.5 297.5 L958.8 306.2 L952.5 315.0 L945.0 311.2 L942.5 303.8 L943.8 311.2 L948.8 316.2 L947.5 326.2 L943.8 336.2 L937.5 347.5 L933.8 352.5 L933.8 361.8 L935.0 365.0 L940.0 377.5 L941.2 382.5 L932.5 387.5 L926.0 396.0 L922.5 395.0 L910.0 400.0 L905.0 410.0 L896.2 411.2 L887.5 418.8 L880.0 427.5 L870.0 435.0 L861.2 442.5 L858.8 445.0 L853.8 457.5 L851.2 469.5 L855.0 486.0 L861.2 503.5 L867.5 523.5 L872.5 541.0 L873.2 551.0 L870.0 566.0 L865.0 573.5 L857.5 574.8 L850.0 561.0 L846.2 551.0 L842.5 542.2 L836.2 531.0 L833.8 522.2 L833.8 506.0 L828.8 498.5 L820.0 488.5 L812.5 483.5 L809.9 485.1 L805.0 487.0 L799.4 489.8 L792.7 489.8 L790.0 483.1 L784.6 477.7 L776.5 474.3 L767.1 474.3 L761.7 467.5 L760.4 473.6 L756.3 477.7 L753.0 469.6 L752.3 479.0 L746.9 475.7 L738.8 477.0 L734.8 480.4 L730.8 479.0 L736.1 485.8 L730.8 491.1 L733.4 495.2 L738.8 499.2 L733.4 502.6 L728.0 496.5 L724.0 493.8 L720.0 500.6 L714.6 499.2 L709.2 500.6 L703.8 495.2 L699.8 489.8 L694.4 487.1 L690.4 491.8 L682.3 490.5 L674.2 487.8 L666.2 488.5 L658.0 492.5 L652.5 493.5 L640.0 504.8 L625.0 511.0 L615.0 521.0 L610.0 533.5 L615.0 546.0 L616.2 561.0 L602.5 557.2 L588.8 551.0 L583.8 541.0 L581.2 531.0 L572.5 518.5 L562.5 499.8 L553.8 489.8 L542.5 487.2 L533.8 491.0 L527.5 503.5 L517.5 498.5 L507.5 491.0 L503.8 478.5 L492.5 463.5 L485.0 458.0 L476.2 450.0 L453.8 450.5 L453.8 458.8 L410.0 458.8 L353.8 437.0 L355.0 433.8 L320.0 437.0 L316.0 426.0 L310.0 417.5 L300.0 410.0 L285.0 402.5 L267.5 398.8 L266.0 385.0 L253.8 370.0 L250.0 364.8 L248.5 358.8 L246.0 353.0 L241.0 346.0 L236.0 339.5 L233.3 334.5 L228.0 326.0 L223.7 318.3 L220.8 306.8 L216.0 298.0 L212.5 289.6 L212.2 284.0 L213.0 278.0 L215.0 270.0 L213.5 265.0 L211.5 260.4 L212.5 258.8 L210.0 245.0 L211.2 235.0 L215.0 220.0 L217.5 202.5 L218.8 181.2 L216.2 177.5 L216.9 170.0 L215.0 166.2 L209.4 152.5 L206.2 140.6 L216.2 143.8 L225.0 144.7 L233.5 145.0 L232.6 140.5 L229.7 139.3 L229.1 136.8 L230.9 134.2 L234.7 133.4Z"/>
<path d="M961.8 287.7 L966.5 283.0 L979.4 279.5 L991.2 276.5 L994.8 275.3 L997.5 275.5 L994.8 278.3 L979.4 284.8 L965.3 287.7Z"/>
<path d="M321.0 129.5 L321.0 184.4 L325.0 187.5 L328.8 192.5 L325.0 200.0 L317.5 216.0 L321.8 220.0 L321.8 260.4 M217.5 181.2 L225.0 181.2 L232.5 183.8 L235.6 191.2 L246.2 191.9 L260.0 191.9 L275.0 188.8 L290.0 185.6 L306.2 184.4 L321.0 184.4 M211.5 260.4 L410.4 260.4 M335.4 129.5 L335.4 148.8 L341.2 156.2 L350.0 166.2 L356.2 172.5 L362.5 173.8 L360.0 185.0 L358.8 192.5 L365.0 192.5 L372.5 202.5 L383.5 215.3 L390.6 212.7 L399.4 211.5 L403.6 211.8 L405.3 208.0 L408.9 212.8 L410.4 213.0 M410.4 204.4 L514.5 204.4 L514.5 278.9 L410.4 278.9 L410.4 204.4 M514.5 129.5 L514.5 204.4 M514.5 186.6 L625.0 186.6 M514.5 241.4 L597.1 241.4 L605.0 246.8 L608.6 244.3 L615.0 243.9 L620.0 246.1 L625.7 247.9 M514.5 278.9 L544.6 278.9 L544.6 297.5 L646.2 297.5 M544.6 297.5 L544.6 353.5 M440.0 278.9 L440.0 458.8 M365.5 353.5 L655.5 353.5 M365.5 260.4 L365.5 370.0 L362.5 371.2 L356.2 372.5 L357.0 380.0 L357.0 390.4 L363.8 403.8 L358.8 407.5 L356.2 423.8 L358.8 430.0 L355.0 433.8 M276.2 260.4 L276.2 316.0 L357.0 390.4 M530.2 353.5 L530.2 446.3 L476.2 447.0 L476.2 450.0 M530.2 363.2 L575.0 363.2 L575.0 392.5 L580.0 401.2 L592.5 405.0 L605.0 411.2 L617.5 413.8 L630.0 413.8 L640.0 411.2 L650.0 411.2 L657.5 415.0 M625.7 247.9 L628.6 251.4 L630.0 255.7 L632.1 260.0 L635.0 265.0 L637.0 275.0 L638.8 285.0 L646.2 297.5 L651.2 301.2 L648.8 307.5 L655.5 313.8 L655.5 363.2 L657.5 397.5 L657.5 415.0 L663.8 417.0 L663.6 440.0 L664.8 446.7 L670.2 457.5 L671.5 466.9 L668.2 477.7 L666.5 488.3 M617.5 129.5 L620.0 143.0 L622.5 157.5 L624.0 172.0 L625.0 186.6 L622.5 191.2 L628.5 195.0 L628.5 232.3 L626.4 236.4 L628.6 238.6 L627.1 243.6 L625.7 247.9 M628.5 232.3 L706.2 232.3 M638.8 286.8 L701.2 286.8 L703.8 292.5 M655.5 363.2 L721.2 363.2 L720.0 371.2 L726.2 372.5 M694.3 170.7 L692.5 180.0 L685.0 186.2 L681.2 192.5 L683.8 205.0 L690.0 211.2 L700.0 217.5 L705.0 225.0 L706.2 232.5 L707.5 242.5 L715.0 250.0 L721.2 257.5 L721.2 262.5 L717.5 268.8 L708.8 272.5 L708.8 282.5 L702.5 287.5 L702.5 297.5 L712.5 312.5 L716.2 318.8 L721.2 318.8 L718.8 330.0 L727.5 337.5 L733.8 350.0 L737.5 352.5 L735.0 360.0 L730.0 365.0 L726.2 372.5 L728.8 375.0 L722.5 385.0 L720.0 392.5 L717.5 392.5 L712.5 402.5 L706.2 412.5 L706.2 427.5 L710.2 435.0 L710.6 440.0 L703.8 448.1 L700.5 457.5 L699.8 464.9 L726.7 465.4 L728.1 472.3 L730.8 479.0 M663.8 427.6 L706.2 427.6 M717.5 174.0 L722.1 176.4 L737.1 182.1 L748.6 185.7 L754.3 192.1 L757.9 199.3 L755.7 207.9 M715.0 250.9 L757.1 250.9 M761.4 265.0 L761.4 317.5 L757.5 327.5 L752.5 336.2 M737.5 352.5 L740.0 350.0 L747.5 347.5 L752.5 336.2 L760.0 336.2 L767.5 338.8 L775.0 333.8 L782.5 332.5 L790.0 323.8 L800.0 320.0 L802.5 314.5 L810.0 319.5 L820.0 321.5 L827.5 325.0 L834.5 333.0 L837.5 325.0 L843.8 317.5 L852.5 310.0 L861.2 300.0 L863.8 287.5 L865.7 286.2 L865.7 260.0 M772.0 264.4 L802.0 264.4 L821.5 265.3 M802.0 264.3 L802.0 314.5 M834.5 333.0 L838.0 340.0 L843.0 345.0 L835.0 352.0 L826.2 360.0 M735.0 362.5 L752.5 361.2 L790.0 360.8 L826.2 360.0 L850.0 361.0 L933.8 361.8 M847.5 361.5 L840.0 368.0 L833.8 372.5 L820.0 382.5 L812.5 387.5 L810.0 391.3 M720.0 391.5 L810.0 391.3 L823.8 392.5 L836.2 387.0 L857.5 388.0 L861.2 393.8 L878.8 394.2 L896.2 411.2 M823.8 392.5 L830.0 402.5 L840.0 415.0 L850.0 427.5 L855.0 437.5 L858.8 445.0 M752.3 391.3 L748.0 440.0 L747.8 476.0 M790.0 391.3 L797.7 440.0 L797.4 448.1 L798.7 456.2 L798.0 464.9 L800.7 470.3 L810.0 471.6 L841.2 473.5 L842.5 477.2 L845.0 470.0 L851.2 469.5 M761.7 467.5 L761.7 464.9 L798.0 464.9 M843.0 345.0 L850.0 348.8 L862.5 346.2 L872.5 340.0 L880.0 327.5 L890.0 320.0 L895.0 312.5 L903.0 308.0 L912.5 312.5 M865.7 302.3 L940.0 302.3 M881.2 302.3 L881.2 310.0 L890.0 306.2 L900.0 303.8 L905.0 310.0 L912.5 312.5 L917.5 320.0 L915.0 327.5 L923.8 333.8 M946.2 300.0 L943.0 300.0 L940.0 302.3 L939.2 326.2 L947.5 326.2 M942.5 260.4 L948.8 270.0 L955.0 273.8 L947.5 280.0 L946.2 288.8 L952.5 293.8 L946.2 300.0 L942.5 303.8 M876.6 256.0 L876.6 260.2 L942.5 260.2 M955.0 273.8 L966.5 279.5 M972.5 204.0 L971.2 225.0 L973.6 232.0 L972.4 245.3 L971.2 258.3 L969.4 274.8 L967.7 277.1 M1001.2 202.5 L997.5 215.0 L991.2 227.5 L987.7 234.0 L984.7 245.6 M1007.4 197.2 L1008.3 230.0 L1012.4 239.4 M972.4 246.2 L1006.5 244.3 L1011.2 241.0 M971.2 258.5 L1002.4 258.9 L1004.2 266.5 M995.3 258.8 L995.3 271.8"/>
<path fill="#000" fill-rule="evenodd" stroke="none" d="M235.1 128.6 L236.8 128.6 L237.2 133.0 L240.6 133.4 L241.4 137.6 L241.1 140.6 L243.1 143.2 L244.5 148.3 L244.0 156.0 L243.0 160.4 L240.4 163.3 L237.5 165.6 L235.0 167.0 L232.0 165.6 L230.3 163.0 L229.6 159.1 L231.5 155.5 L233.4 152.3 L234.6 147.5 L235.2 143.5 L234.4 141.4 L231.5 140.3 L229.4 138.4 L229.0 135.6 L230.8 133.4 L234.7 133.4Z M235.6 136.0 L237.3 136.0 L237.3 137.8 L235.6 137.8Z M234.6 157.6 L237.0 157.4 L237.2 159.0 L234.8 159.3Z M238.8 146.0 L240.2 146.0 L240.2 149.0 L238.8 149.0Z"/>
<path stroke-width="3.2" d="M215.6 166.5 L217.3 168.5"/>
<path stroke-width="2.8" d="M216.3 172.0 L217.6 175.5"/>
<path stroke-width="3.4" d="M241.8 331.5 L244.0 336.0 L244.5 340.0 L247.5 344.5"/>
<path stroke-width="3.0" d="M241.0 335.0 L242.5 339.0"/>
<path stroke-width="3.6" d="M935.4 303.0 L929.8 308.5 L925.2 312.2 L924.3 319.6 L923.3 327.0 L921.5 333.5 L918.7 340.0"/>
<path stroke-width="3.2" d="M936.3 304.8 L931.7 310.4 L929.8 317.8 L929.8 325.2 L932.6 332.6 L934.4 338.1 L932.6 345.6 L933.5 351.1"/>
<path stroke-width="2.4" d="M919.6 334.4 L924.0 337.0 L922.0 340.0 L928.9 343.7"/>
<path stroke-width="2.4" d="M918.7 345.6 L923.0 348.0 L921.0 351.0 L927.0 354.8 L930.0 352.0"/>
<path stroke-width="2.4" d="M921.5 366.0 L927.0 368.0 L925.0 371.5 L931.0 373.0 L934.4 377.0"/>
<path stroke-width="2.4" d="M917.8 380.7 L923.0 382.0 L921.0 385.0 L927.0 388.0"/>
<path stroke-width="2.2" d="M912.0 393.7 L918.0 395.0 L923.3 399.0"/>
<path stroke-width="3.6" d="M755.5 211.5 L763.0 204.5 L770.0 196.5"/>
<path stroke-width="3.0" d="M768.0 190.0 L772.0 189.0"/>
<path stroke-width="4.4" d="M791.6 201.8 L792.2 207.2"/>
<path stroke-width="3.8" d="M834.5 520.0 L836.2 526.5"/>
<path stroke-width="3.4" d="M842.5 541.0 L844.2 545.0"/>
<path stroke-width="3.0" d="M857.5 573.0 L860.5 573.0"/>
<path stroke-width="2.2" d="M718.0 480.4 L721.3 476.3 L726.7 478.4 L730.8 481.7 L725.4 483.7 L720.0 483.1 L718.0 480.4"/>
<path stroke-width="2.6" d="M730.8 482.0 L733.0 487.0 L731.5 490.5"/>
<path stroke-width="2.6" d="M733.4 495.5 L737.0 498.5 L734.0 501.5"/>
<path stroke-width="3.0" d="M1014.2 263.5 L1018.3 265.0 L1023.0 264.4 L1023.8 261.5 L1021.8 258.5"/>
<path stroke-width="3.4" d="M1010.5 271.0 L1012.0 271.4"/>
<path stroke-width="3.6" d="M1020.8 273.4 L1022.8 273.8"/>
<path stroke-width="2.2" d="M1015.8 270.0 L1016.3 270.0"/>
<path stroke-width="3.0" d="M1001.5 265.0 L1004.5 268.0"/>
<path stroke-width="2.8" d="M967.7 277.1 L965.0 282.0 L962.5 287.0"/>
<path stroke-width="2.8" d="M649.5 492.5 L651.5 488.0 L654.0 491.5"/>
<path stroke-width="2.2" d="M633.0 508.0 L636.0 504.0 L638.0 507.0"/>
<path stroke-width="2.8" d="M624.0 513.5 L627.0 509.5 L629.5 512.0"/>
<path stroke-width="2.6" d="M612.0 529.0 L614.5 524.0 L616.5 527.0"/>
<path stroke-width="2.2" d="M610.5 537.0 L613.5 534.0"/>
<path stroke-width="3.4" d="M829.6 269.0 L831.0 270.0"/>
</g></svg>
<div id="legend"><div class="lt">Cold Stress<br>Units</div>
<div class="row" style="top:43.0px"><div class="sw" style="background:#5E4FA2"></div><div class="lb">0-16</div></div>
<div class="row" style="top:60.0px"><div class="sw" style="background:#3288BD"></div><div class="lb">16-32</div></div>
<div class="row" style="top:77.0px"><div class="sw" style="background:#66C2A5"></div><div class="lb">32-48</div></div>
<div class="row" style="top:94.0px"><div class="sw" style="background:#ABDDA4"></div><div class="lb">48-64</div></div>
<div class="row" style="top:111.0px"><div class="sw" style="background:#E6F598"></div><div class="lb">64-80</div></div>
<div class="row" style="top:128.0px"><div class="sw" style="background:#FEE08B"></div><div class="lb">80-96</div></div>
<div class="row" style="top:145.0px"><div class="sw" style="background:#FDAE61"></div><div class="lb">96-112</div></div>
<div class="row" style="top:162.0px"><div class="sw" style="background:#F46D43"></div><div class="lb">112-128</div></div>
<div class="row" style="top:179.0px"><div class="sw" style="background:#D53E4F"></div><div class="lb">128-144</div></div>
<div class="row" style="top:196.0px"><div class="sw" style="background:#9E0142"></div><div class="lb">144-160</div></div>
</div></body></html>
